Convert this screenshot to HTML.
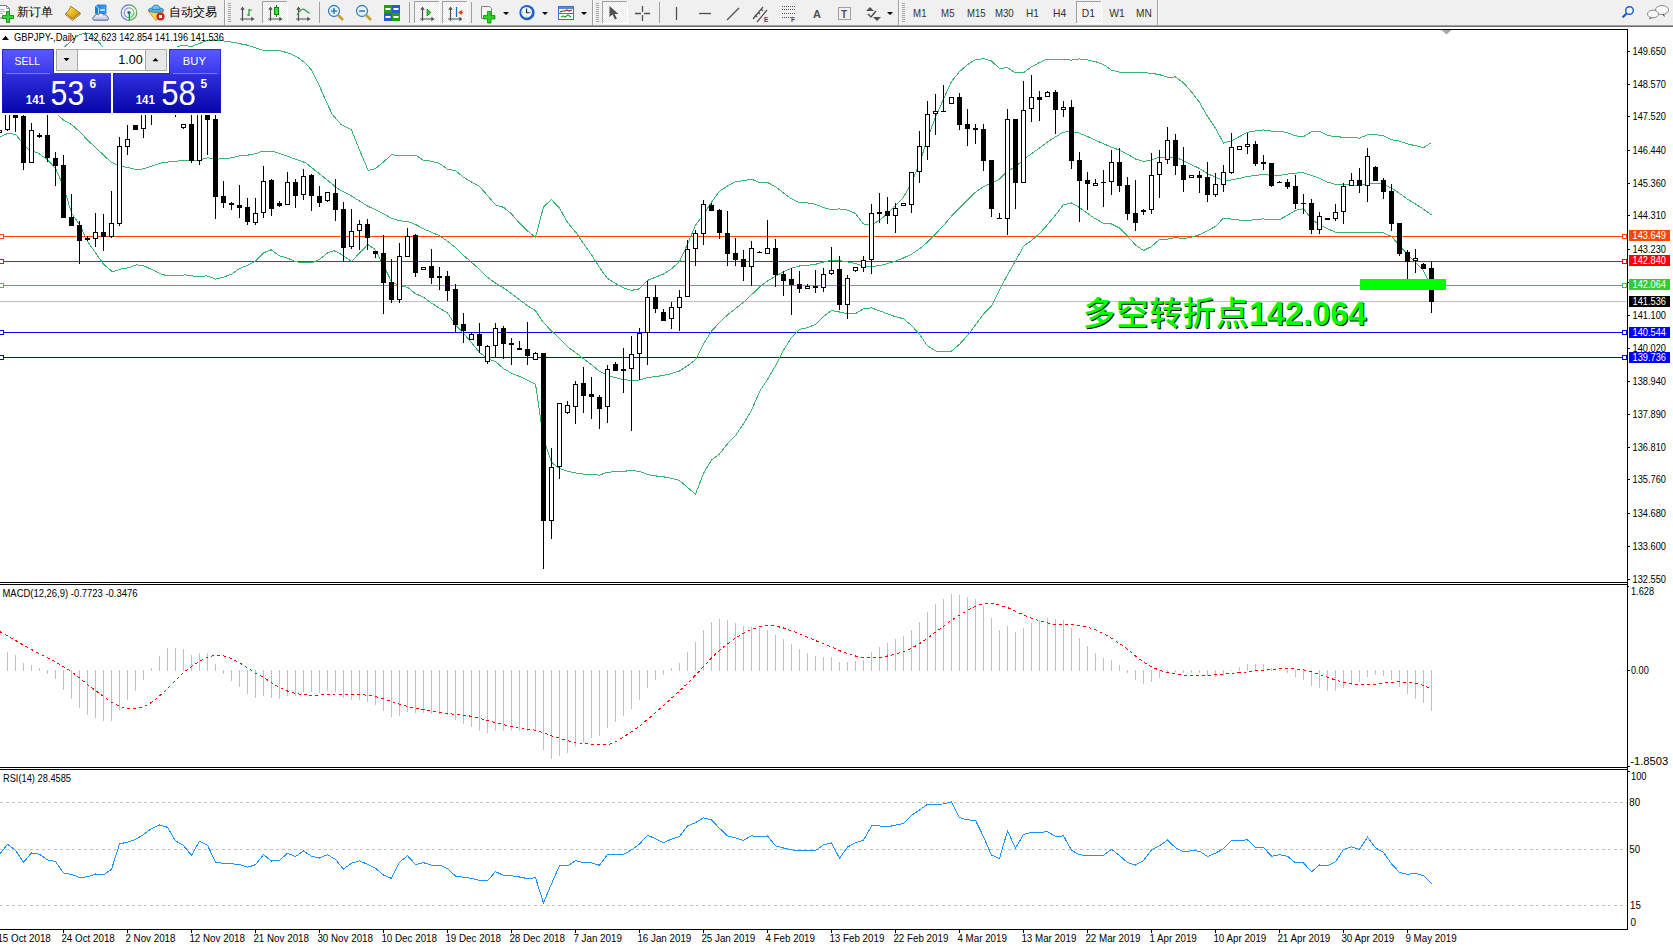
<!DOCTYPE html>
<html><head><meta charset="utf-8"><title>GBPJPY Daily</title>
<style>html,body{margin:0;padding:0;background:#fff;overflow:hidden;width:1673px;height:948px}svg{display:block}text{font-family:"Liberation Sans", Arial, sans-serif}</style>
</head><body>
<svg width="1673" height="948" viewBox="0 0 1673 948">
<defs><pattern id="chk" x="0" y="0" width="2" height="2" patternUnits="userSpaceOnUse"><rect width="2" height="2" fill="#fcfcfc"/><rect width="1" height="1" fill="#ececec"/><rect x="1" y="1" width="1" height="1" fill="#ececec"/></pattern></defs>
<rect x="0" y="0" width="1673" height="25" fill="#f0f0f0"/>
<g shape-rendering="crispEdges"><rect x="0" y="25" width="1673" height="1" fill="#a0a0a0"/><rect x="0" y="26" width="1673" height="1" fill="#6e6e6e"/><rect x="0" y="27" width="1673" height="2" fill="#fff"/></g>
<g shape-rendering="crispEdges">
<rect x="224" y="0" width="1" height="25" fill="#a0a0a0"/><rect x="225" y="0" width="1" height="25" fill="#fff"/>
<rect x="228" y="3" width="3" height="1" fill="#a8a8a8"/>
<rect x="228" y="5" width="3" height="1" fill="#a8a8a8"/>
<rect x="228" y="7" width="3" height="1" fill="#a8a8a8"/>
<rect x="228" y="9" width="3" height="1" fill="#a8a8a8"/>
<rect x="228" y="11" width="3" height="1" fill="#a8a8a8"/>
<rect x="228" y="13" width="3" height="1" fill="#a8a8a8"/>
<rect x="228" y="15" width="3" height="1" fill="#a8a8a8"/>
<rect x="228" y="17" width="3" height="1" fill="#a8a8a8"/>
<rect x="228" y="19" width="3" height="1" fill="#a8a8a8"/>
<rect x="228" y="21" width="3" height="1" fill="#a8a8a8"/>
<rect x="592" y="0" width="1" height="25" fill="#a0a0a0"/><rect x="593" y="0" width="1" height="25" fill="#fff"/>
<rect x="596" y="3" width="3" height="1" fill="#a8a8a8"/>
<rect x="596" y="5" width="3" height="1" fill="#a8a8a8"/>
<rect x="596" y="7" width="3" height="1" fill="#a8a8a8"/>
<rect x="596" y="9" width="3" height="1" fill="#a8a8a8"/>
<rect x="596" y="11" width="3" height="1" fill="#a8a8a8"/>
<rect x="596" y="13" width="3" height="1" fill="#a8a8a8"/>
<rect x="596" y="15" width="3" height="1" fill="#a8a8a8"/>
<rect x="596" y="17" width="3" height="1" fill="#a8a8a8"/>
<rect x="596" y="19" width="3" height="1" fill="#a8a8a8"/>
<rect x="596" y="21" width="3" height="1" fill="#a8a8a8"/>
<rect x="898" y="0" width="1" height="25" fill="#a0a0a0"/><rect x="899" y="0" width="1" height="25" fill="#fff"/>
<rect x="902" y="3" width="3" height="1" fill="#a8a8a8"/>
<rect x="902" y="5" width="3" height="1" fill="#a8a8a8"/>
<rect x="902" y="7" width="3" height="1" fill="#a8a8a8"/>
<rect x="902" y="9" width="3" height="1" fill="#a8a8a8"/>
<rect x="902" y="11" width="3" height="1" fill="#a8a8a8"/>
<rect x="902" y="13" width="3" height="1" fill="#a8a8a8"/>
<rect x="902" y="15" width="3" height="1" fill="#a8a8a8"/>
<rect x="902" y="17" width="3" height="1" fill="#a8a8a8"/>
<rect x="902" y="19" width="3" height="1" fill="#a8a8a8"/>
<rect x="902" y="21" width="3" height="1" fill="#a8a8a8"/>
<rect x="1157" y="0" width="1" height="25" fill="#a0a0a0"/><rect x="1158" y="0" width="1" height="25" fill="#fff"/>
<rect x="319" y="2" width="1" height="21" fill="#a0a0a0"/>
<rect x="409" y="2" width="1" height="21" fill="#a0a0a0"/>
<rect x="471" y="2" width="1" height="21" fill="#a0a0a0"/>
<rect x="659" y="2" width="1" height="21" fill="#a0a0a0"/>
<rect x="262" y="1" width="25" height="23" fill="url(#chk)"/>
<rect x="262" y="1" width="25" height="1" fill="#a0a0a0"/><rect x="262" y="1" width="1" height="22" fill="#a0a0a0"/>
<rect x="287" y="1" width="1" height="23" fill="#fff"/><rect x="262" y="23" width="26" height="1" fill="#fff"/>
<rect x="414" y="1" width="25" height="23" fill="url(#chk)"/>
<rect x="414" y="1" width="25" height="1" fill="#a0a0a0"/><rect x="414" y="1" width="1" height="22" fill="#a0a0a0"/>
<rect x="439" y="1" width="1" height="23" fill="#fff"/><rect x="414" y="23" width="26" height="1" fill="#fff"/>
<rect x="442" y="1" width="25" height="23" fill="url(#chk)"/>
<rect x="442" y="1" width="25" height="1" fill="#a0a0a0"/><rect x="442" y="1" width="1" height="22" fill="#a0a0a0"/>
<rect x="467" y="1" width="1" height="23" fill="#fff"/><rect x="442" y="23" width="26" height="1" fill="#fff"/>
<rect x="602" y="1" width="25" height="23" fill="url(#chk)"/>
<rect x="602" y="1" width="25" height="1" fill="#a0a0a0"/><rect x="602" y="1" width="1" height="22" fill="#a0a0a0"/>
<rect x="627" y="1" width="1" height="23" fill="#fff"/><rect x="602" y="23" width="26" height="1" fill="#fff"/>
<rect x="1076" y="1" width="25" height="23" fill="url(#chk)"/>
<rect x="1076" y="1" width="25" height="1" fill="#a0a0a0"/><rect x="1076" y="1" width="1" height="22" fill="#a0a0a0"/>
<rect x="1101" y="1" width="1" height="23" fill="#fff"/><rect x="1076" y="23" width="26" height="1" fill="#fff"/>
</g>
<path d="M-1.5 5.5h8l3 3v9.5h-11z" fill="#fdfdfd" stroke="#7a7a7a"/><path d="M6.5 5.5v3h3" fill="none" stroke="#9a9a9a"/><path d="M0 9.5h4M0 11.5h5M0 13.5h3" stroke="#b4b4b4"/><path d="M6.5 11.5h3v4h4v3h-4v4h-3v-4h-4v-3h4z" fill="#36d436" stroke="#128a12" stroke-width="0.9"/><defs><linearGradient id="gold" x1="0" y1="0" x2="1" y2="1"><stop offset="0" stop-color="#fff2a0"/><stop offset="0.5" stop-color="#e8b818"/><stop offset="1" stop-color="#c88a10"/></linearGradient><linearGradient id="cl" x1="0" y1="0" x2="0" y2="1"><stop offset="0" stop-color="#ffffff"/><stop offset="1" stop-color="#b8c4dc"/></linearGradient><linearGradient id="bx" x1="0" y1="0" x2="1" y2="0"><stop offset="0" stop-color="#0a7ae8"/><stop offset="1" stop-color="#3aa8ff"/></linearGradient></defs><path d="M65.5 14.5L72.5 20.5L80.5 14L80 12.8L72.5 18.6L66 13.2Z" fill="#f4e8c0" stroke="#9a6010" stroke-width="0.9"/><path d="M70.8 6.3L79.8 12.8L72.5 18.8L65.8 13.2L68.5 11Z" fill="url(#gold)" stroke="#a06a10" stroke-width="0.9"/><path d="M95.5 6.5l2-1.5h8.5v8.5h-10.5z" fill="url(#bx)" stroke="#1a70d0" stroke-width="0.8"/><path d="M96 6l2.5 2v6" stroke="#bfe4ff" fill="none" stroke-width="0.9"/><path d="M100 10h5" stroke="#e8f6ff" stroke-width="1.4"/><path d="M94 20.2c-1.6 0-1.8-3.6 0.6-3.9c0.3-2 2.6-2.6 3.8-1.4c1-2.2 4.4-2.2 5.2 0.2c1.2-0.9 3.6-0.2 3.6 1.6c1.8 0.4 1.6 3.5-0.2 3.5z" fill="url(#cl)" stroke="#3c5a96" stroke-width="0.9"/><path d="M129 20.5A7.8 7.8 0 0 0 136.8 12.7L129 12.7Z" fill="#cfe8cf"/><g fill="none" stroke-width="1.1"><path d="M129 4.9A7.8 7.8 0 0 0 129 20.5" stroke="#4a78d8"/><path d="M129 4.9A7.8 7.8 0 0 1 129 20.5" stroke="#5aa05a"/><path d="M129 7.9A4.8 4.8 0 0 0 129 17.5" stroke="#7a98e0"/><path d="M129 7.9A4.8 4.8 0 0 1 129 17.5" stroke="#80b880"/></g><circle cx="129" cy="12.6" r="1.6" fill="#2050c8"/><path d="M129.3 12.6v8" stroke="#18a018" stroke-width="1.3"/><path d="M148.5 11.5h15l-7.5 9z" fill="#f6dc48" stroke="#c89a18" stroke-width="0.9"/><ellipse cx="156" cy="10" rx="7.6" ry="2.4" fill="#58b0e8" stroke="#2a80b0" stroke-width="0.9"/><path d="M152 9.5c0-3 1.5-4.5 4-4.5s4 1.5 4 4.5z" fill="#70c0f0" stroke="#2a80b0" stroke-width="0.9"/><circle cx="160.5" cy="16.5" r="4.1" fill="#d42a10"/><rect x="159" y="15" width="3" height="3" fill="#fff"/><g stroke="#505050" stroke-width="1.2" fill="none"><path d="M242.5 9V21M240 19H252"/></g><path d="M242.5 6.5l-2.2 3.2h4.4z M254.5 19l-3.2 -2.2v4.4z" fill="#505050"/><path d="M249 9v7M249 10h3M247 15h2" stroke="#1a9a1a" stroke-width="1.2" fill="none"/><g stroke="#505050" stroke-width="1.2" fill="none"><path d="M270.5 9V21M268 19H280"/></g><path d="M270.5 6.5l-2.2 3.2h4.4z M282.5 19l-3.2 -2.2v4.4z" fill="#505050"/><path d="M276.5 5v12" stroke="#0a8a0a"/><rect x="274.5" y="7.5" width="4" height="7" fill="#3ae03a" stroke="#0a8a0a"/><g stroke="#505050" stroke-width="1.2" fill="none"><path d="M298.5 9V21M296 19H308"/></g><path d="M298.5 6.5l-2.2 3.2h4.4z M310.5 19l-3.2 -2.2v4.4z" fill="#505050"/><path d="M297 15q5 -8 8 -5t5 3" fill="none" stroke="#3a9a3a" stroke-width="1.2"/><circle cx="334" cy="11" r="5.5" fill="#e6f4fc" stroke="#3a80c8" stroke-width="1.3"/><path d="M331 11h6M334 8v6" stroke="#3a80b0" stroke-width="1.6"/><path d="M338 15l5 5" stroke="#c8a020" stroke-width="2.6"/><circle cx="362" cy="11" r="5.5" fill="#e6f4fc" stroke="#3a80c8" stroke-width="1.3"/><path d="M359 11h6" stroke="#3a80b0" stroke-width="1.6"/><path d="M366 15l5 5" stroke="#c8a020" stroke-width="2.6"/><rect x="384" y="5" width="8" height="8" fill="#2a9a1a"/><rect x="392" y="5" width="8" height="8" fill="#2a5ad8"/><rect x="384" y="13" width="8" height="8" fill="#2a5ad8"/><rect x="392" y="13" width="8" height="8" fill="#2a9a1a"/><path d="M385.5 9h5M393.5 9h5M385.5 17h5M393.5 17h5" stroke="#fff" stroke-width="2"/><g stroke="#505050" stroke-width="1.2" fill="none"><path d="M422.5 9V21M420 19H432"/></g><path d="M422.5 6.5l-2.2 3.2h4.4z M434.5 19l-3.2 -2.2v4.4z" fill="#505050"/><path d="M427 9v7l4-3.5z" fill="#3ac03a" stroke="#1a8a1a" stroke-width="0.8"/><g stroke="#505050" stroke-width="1.2" fill="none"><path d="M450.5 9V21M448 19H460"/></g><path d="M450.5 6.5l-2.2 3.2h4.4z M462.5 19l-3.2 -2.2v4.4z" fill="#505050"/><path d="M456.5 7v10" stroke="#1a6aa8" stroke-width="1.2"/><path d="M458 12.5l4-2.5v5z" fill="#e04a10"/><path d="M460 12.5h3" stroke="#e04a10" stroke-width="1.5"/><path d="M481.5 6.5h8l2 2v10h-10z" fill="#fafafa" stroke="#808080"/><path d="M487.5 11.5h3.5v4h4v3.5h-4v4h-3.5v-4h-4v-3.5h4z" fill="#2ad02a" stroke="#0a8a0a" stroke-width="0.8"/><path d="M503 12h6l-3 3z" fill="#000"/><circle cx="527" cy="12.7" r="7.6" fill="#1a62cc"/><circle cx="526.6" cy="12.3" r="5.4" fill="#f4f8ff"/><path d="M526.6 8.5v4.2h3" stroke="#222" stroke-width="1.1" fill="none"/><path d="M522 12.3h1M531 12.3h-1M526.6 16.7v-1" stroke="#8aa0c0"/><path d="M542 12h6l-3 3z" fill="#000"/><rect x="558.5" y="6.5" width="15" height="13" fill="#fff" stroke="#3a70c0"/><rect x="559" y="7" width="14" height="2" fill="#5a8ad8"/><path d="M559 13.5h14" stroke="#3a70c0"/><path d="M560 12l3-1 2 0 2-1 2 1 3-1" stroke="#a02010" fill="none" stroke-width="1.2"/><path d="M561 17l2-1 2 1 3-2 3 2" stroke="#20a020" fill="none" stroke-width="1.2"/><path d="M581 12h6l-3 3z" fill="#000"/><path d="M609.5 6v11l3-2.5 2.5 5 2-1-2.5-4.5h4z" fill="#505050"/><path d="M642.5 6v6M642.5 15v6M635 13.5h6M644 13.5h6" stroke="#505050" stroke-width="1.3"/><path d="M676.5 7v13" stroke="#505050" stroke-width="1.3"/><path d="M699 13.5h12" stroke="#505050" stroke-width="1.3"/><path d="M727 20l12-12" stroke="#505050" stroke-width="1.3"/><path d="M753 19l10-12M757 22l10-12" stroke="#505050" stroke-width="1.2"/><path d="M755 15l2 2M758 12l2 2M761 9l2 2" stroke="#505050" stroke-width="1.2"/><text x="764" y="22" font-size="6.5" font-weight="bold" fill="#404040" font-family="Liberation Sans">E</text><path d="M782 6.5h13M782 9.5h13M782 13.5h13M782 17.5h9" stroke="#505050" stroke-dasharray="1,1"/><text x="791" y="22" font-size="6.5" font-weight="bold" fill="#404040" font-family="Liberation Sans">F</text><text x="813" y="18" font-size="11" font-weight="bold" fill="#505050" font-family="Liberation Sans">A</text><rect x="838.5" y="7.5" width="12" height="12" fill="none" stroke="#505050" stroke-dasharray="1,1"/><text x="841" y="17.5" font-size="10" font-weight="bold" fill="#505050" font-family="Liberation Sans">T</text><path d="M866 11l4-4 4 4z" fill="#505050"/><path d="M868 14l3 3 5-6" stroke="#505050" stroke-width="1.5" fill="none"/><path d="M873 17h8l-4 4z" fill="#505050"/><path d="M887 12h6l-3 3z" fill="#000"/><circle cx="1629.5" cy="10.5" r="3.8" fill="#f4f8ff" stroke="#1a5ad0" stroke-width="1.4"/><path d="M1626.5 13.5l-4 4" stroke="#1a5ad0" stroke-width="2.2"/><ellipse cx="1662" cy="10" rx="6.5" ry="4.5" fill="#f8f8f8" stroke="#8a8a8a"/><path d="M1664 14l1 3-3-2.5z" fill="#555"/><ellipse cx="1653" cy="14" rx="5.5" ry="3.8" fill="#f8f8f8" stroke="#8a8a8a"/><path d="M1650 17.5l-1 2 3-1.5z" fill="#555"/>
<text x="16.5" y="15.8" font-size="12.4" fill="#000" font-family='"Liberation Sans", "Noto Sans CJK SC", sans-serif' font-weight="500">新订单</text>
<text x="168.5" y="15.8" font-size="12.2" fill="#000" font-family='"Liberation Sans", "Noto Sans CJK SC", sans-serif' font-weight="500">自动交易</text>
<text x="913.0999999999999" y="17.2" font-size="10.6" fill="#333" font-family='"Liberation Sans", Arial, sans-serif' textLength="13.399999999999999" lengthAdjust="spacingAndGlyphs">M1</text>
<text x="941.0999999999999" y="17.2" font-size="10.6" fill="#333" font-family='"Liberation Sans", Arial, sans-serif' textLength="13.399999999999999" lengthAdjust="spacingAndGlyphs">M5</text>
<text x="967.0999999999999" y="17.2" font-size="10.6" fill="#333" font-family='"Liberation Sans", Arial, sans-serif' textLength="18.5" lengthAdjust="spacingAndGlyphs">M15</text>
<text x="994.9" y="17.2" font-size="10.6" fill="#333" font-family='"Liberation Sans", Arial, sans-serif' textLength="18.8" lengthAdjust="spacingAndGlyphs">M30</text>
<text x="1026.0" y="17.2" font-size="10.6" fill="#333" font-family='"Liberation Sans", Arial, sans-serif' textLength="12.799999999999999" lengthAdjust="spacingAndGlyphs">H1</text>
<text x="1053.1" y="17.2" font-size="10.6" fill="#333" font-family='"Liberation Sans", Arial, sans-serif' textLength="13.2" lengthAdjust="spacingAndGlyphs">H4</text>
<text x="1081.8" y="17.2" font-size="10.6" fill="#333" font-family='"Liberation Sans", Arial, sans-serif' textLength="13.2" lengthAdjust="spacingAndGlyphs">D1</text>
<text x="1109.3" y="17.2" font-size="10.6" fill="#333" font-family='"Liberation Sans", Arial, sans-serif' textLength="15.6" lengthAdjust="spacingAndGlyphs">W1</text>
<text x="1136.0" y="17.2" font-size="10.6" fill="#333" font-family='"Liberation Sans", Arial, sans-serif' textLength="15.799999999999999" lengthAdjust="spacingAndGlyphs">MN</text>
<g shape-rendering="crispEdges">
<rect x="0" y="301" width="1627" height="1" fill="#c0c0c0"/>
<rect x="4" y="236" width="1618" height="1" fill="#ff4500"/>
<rect x="-0.5" y="234.5" width="4" height="4" fill="#fff" stroke="#ff4500" stroke-width="1"/>
<rect x="1622.5" y="234.5" width="4" height="4" fill="#fff" stroke="#ff4500" stroke-width="1"/>
<rect x="4" y="261" width="1618" height="1" fill="#ff0000"/>
<rect x="-0.5" y="259.5" width="4" height="4" fill="#fff" stroke="#ff0000" stroke-width="1"/>
<rect x="1622.5" y="259.5" width="4" height="4" fill="#fff" stroke="#ff0000" stroke-width="1"/>
<rect x="4" y="285" width="1618" height="1" fill="#32cd32"/>
<rect x="-0.5" y="283.5" width="4" height="4" fill="#fff" stroke="#32cd32" stroke-width="1"/>
<rect x="1622.5" y="283.5" width="4" height="4" fill="#fff" stroke="#32cd32" stroke-width="1"/>
<rect x="4" y="332" width="1618" height="1" fill="#0000ff"/>
<rect x="-0.5" y="330.5" width="4" height="4" fill="#fff" stroke="#0000ff" stroke-width="1"/>
<rect x="1622.5" y="330.5" width="4" height="4" fill="#fff" stroke="#0000ff" stroke-width="1"/>
<rect x="4" y="357" width="1618" height="1" fill="#0000ff"/>
<rect x="-0.5" y="355.5" width="4" height="4" fill="#fff" stroke="#0000ff" stroke-width="1"/>
<rect x="1622.5" y="355.5" width="4" height="4" fill="#fff" stroke="#0000ff" stroke-width="1"/>
</g>
<g fill="none" stroke="#3cb371" stroke-width="1" shape-rendering="crispEdges">
<polyline points="62.5,49.0 64.5,47.1 72.5,39.5 79.5,34.7 85.5,32.8 91.5,34.5 97.5,40.5 102.9,47.1 110.5,52.5 170.5,52.5 177.4,46.8 182.8,45.2 191.4,46.6 198.9,43.6 206.5,40.9 215.1,40.3 225.9,41.2 236.6,43.0 247.4,45.2 263.0,50.2 280.9,50.9 290.4,53.8 296.5,56.5 305.5,63.2 312.2,71.0 318.9,84.5 325.5,100.1 332.4,114.6 341.3,124.7 351.4,129.6 359.2,149.3 368.2,170.5 375.5,168.6 383.5,161.9 391.5,154.8 399.5,155.4 407.5,155.8 415.5,155.2 423.5,160.2 431.5,161.2 439.5,163.4 447.5,169.3 455.5,170.5 463.5,177.3 471.5,182.0 479.5,186.4 487.5,195.5 495.5,204.8 503.5,207.3 511.5,213.8 519.5,223.2 527.5,231.0 535.5,237.4 543.5,206.8 551.5,199.7 559.5,208.1 567.5,222.4 575.5,231.9 583.5,243.6 591.5,254.8 599.5,267.6 607.5,278.4 615.5,283.5 623.5,287.9 631.5,290.4 639.5,288.8 647.5,280.4 655.5,277.2 663.5,274.1 671.5,268.8 679.5,261.6 687.5,244.3 695.5,225.2 703.5,214.4 711.5,202.1 719.5,191.2 727.5,186.0 735.5,181.8 743.5,180.6 751.5,179.2 759.5,182.5 767.5,182.5 775.5,186.6 783.5,193.0 791.5,198.9 799.5,202.7 807.5,203.0 815.5,204.3 823.5,207.5 831.5,209.7 839.5,208.9 847.5,210.1 855.5,213.4 863.5,224.0 871.5,225.1 879.5,220.3 887.5,213.5 895.5,205.6 903.5,197.2 911.5,182.8 919.5,163.5 927.5,138.5 935.5,117.1 943.5,99.2 951.5,81.4 959.5,71.7 967.5,64.6 975.5,59.6 983.5,58.7 991.5,61.0 999.5,68.5 1007.5,67.6 1015.5,72.9 1023.5,72.8 1031.5,66.8 1039.5,62.5 1047.5,59.0 1055.5,59.0 1063.5,59.5 1071.5,60.1 1079.5,58.9 1087.5,59.9 1095.5,61.7 1103.5,64.4 1111.5,70.2 1119.5,72.2 1127.5,72.6 1135.5,72.9 1143.5,72.6 1151.5,73.3 1159.5,74.7 1167.5,77.1 1175.5,77.0 1183.5,82.8 1191.5,92.0 1199.5,102.3 1207.5,116.4 1215.5,128.1 1223.5,143.1 1231.5,140.8 1239.5,136.5 1247.5,132.2 1255.5,131.0 1263.5,129.9 1271.5,131.1 1279.5,131.1 1287.5,132.8 1295.5,135.8 1303.5,136.7 1311.5,131.7 1319.5,131.4 1327.5,135.4 1335.5,136.7 1343.5,137.2 1351.5,137.5 1359.5,138.1 1367.5,134.9 1375.5,134.6 1383.5,135.7 1391.5,139.7 1399.5,141.1 1407.5,144.0 1415.5,145.6 1423.5,147.6 1431.5,142.6"/>
<polyline points="0.5,100.5 40.5,105.5 55.5,113.0 58.7,115.8 63.5,120.0 71.5,124.5 79.5,131.5 87.5,140.0 95.5,147.5 103.5,155.0 111.5,162.5 119.5,165.8 127.5,167.5 136.3,169.6 143.7,168.8 152.5,165.9 161.4,162.9 168.8,161.9 176.2,161.5 182.1,160.0 190.9,160.7 200.8,159.5 207.5,157.8 212.9,158.7 217.0,159.1 226.5,158.7 233.2,157.4 239.9,155.7 248.0,155.1 256.1,153.7 262.9,151.0 271.0,151.0 276.4,152.4 284.5,155.1 295.3,159.1 305.5,162.7 316.7,171.7 327.9,180.6 339.1,189.6 350.3,195.2 359.2,200.8 368.2,206.4 375.5,209.6 383.5,213.6 391.5,218.3 399.5,220.8 407.5,221.5 415.5,224.4 423.5,228.8 431.5,232.2 439.5,235.8 447.5,241.2 455.5,247.6 463.5,255.3 471.5,262.3 479.5,269.5 487.5,277.2 495.5,283.1 503.5,287.9 511.5,293.6 519.5,299.8 527.5,305.7 535.5,310.7 543.5,322.6 551.5,331.0 559.5,338.3 567.5,346.8 575.5,352.4 583.5,358.8 591.5,364.8 599.5,371.3 607.5,375.3 615.5,377.6 623.5,379.6 631.5,380.6 639.5,380.0 647.5,377.5 655.5,376.6 663.5,375.4 671.5,373.6 679.5,371.0 687.5,365.8 695.5,359.7 703.5,344.0 711.5,331.1 719.5,322.5 727.5,314.9 735.5,308.6 743.5,302.2 751.5,294.8 759.5,287.1 767.5,281.0 775.5,276.2 783.5,271.7 791.5,268.2 799.5,266.0 807.5,265.4 815.5,264.3 823.5,262.0 831.5,260.1 839.5,260.5 847.5,261.9 855.5,263.6 863.5,266.3 871.5,266.5 879.5,265.6 887.5,263.6 895.5,261.1 903.5,258.0 911.5,254.2 919.5,248.9 927.5,242.1 935.5,234.0 943.5,225.6 951.5,216.2 959.5,208.0 967.5,200.1 975.5,192.2 983.5,186.5 991.5,183.4 999.5,179.1 1007.5,171.2 1015.5,166.9 1023.5,159.5 1031.5,153.7 1039.5,148.0 1047.5,141.9 1055.5,136.9 1063.5,132.1 1071.5,131.5 1079.5,133.2 1087.5,136.6 1095.5,140.2 1103.5,143.8 1111.5,147.1 1119.5,150.1 1127.5,154.3 1135.5,159.0 1143.5,161.6 1151.5,159.9 1159.5,157.1 1167.5,158.1 1175.5,157.3 1183.5,160.7 1191.5,164.6 1199.5,168.5 1207.5,173.6 1215.5,177.3 1223.5,180.6 1231.5,180.0 1239.5,178.3 1247.5,176.4 1255.5,175.4 1263.5,174.4 1271.5,175.5 1279.5,175.4 1287.5,174.1 1295.5,173.1 1303.5,172.7 1311.5,175.4 1319.5,178.1 1327.5,182.1 1335.5,184.4 1343.5,184.8 1351.5,185.0 1359.5,185.5 1367.5,183.6 1375.5,183.4 1383.5,184.3 1391.5,188.1 1399.5,193.4 1407.5,199.2 1415.5,204.0 1423.5,209.2 1431.5,215.0"/>
<polyline points="0.5,136.7 7.5,133.6 15.5,134.2 21.5,141.8 28.5,149.4 38.5,153.2 47.5,159.8 55.5,168.4 63.5,186.4 71.5,213.0 80.5,226.2 87.5,241.4 95.5,252.8 103.5,264.2 112.5,271.8 120.5,269.1 128.6,267.8 136.6,264.8 144.7,266.2 152.8,270.0 160.8,274.0 167.8,275.9 178.6,275.9 185.1,274.8 195.8,276.5 206.6,275.9 215.7,279.1 223.8,277.0 231.3,274.3 238.9,268.9 246.4,265.7 255.0,261.4 263.6,252.8 271.1,249.8 279.7,256.0 286.2,257.6 295.3,261.5 302.0,262.6 312.1,262.6 319.7,259.2 328.2,252.5 334.1,250.8 339.1,253.0 345.9,257.5 351.8,261.5 359.4,253.0 367.8,244.5 374.6,249.1 375.5,250.5 383.5,265.2 391.5,281.7 399.5,286.1 407.5,287.2 415.5,293.7 423.5,297.3 431.5,303.2 439.5,308.2 447.5,313.0 455.5,324.8 463.5,333.4 471.5,342.6 479.5,352.5 487.5,358.8 495.5,361.4 503.5,368.5 511.5,373.3 519.5,376.4 527.5,380.3 535.5,384.1 543.5,438.4 551.5,462.3 559.5,468.6 567.5,471.2 575.5,473.0 583.5,474.1 591.5,474.7 599.5,475.1 607.5,472.2 615.5,471.7 623.5,471.2 631.5,470.7 639.5,471.2 647.5,474.6 655.5,475.9 663.5,476.8 671.5,478.4 679.5,480.5 687.5,487.3 695.5,494.3 703.5,473.5 711.5,460.1 719.5,453.9 727.5,443.8 735.5,435.5 743.5,423.8 751.5,410.5 759.5,391.6 767.5,379.5 775.5,365.8 783.5,350.4 791.5,337.5 799.5,329.2 807.5,327.8 815.5,324.3 823.5,316.5 831.5,310.6 839.5,312.0 847.5,313.7 855.5,313.7 863.5,308.7 871.5,307.9 879.5,310.8 887.5,313.8 895.5,316.7 903.5,318.8 911.5,325.5 919.5,334.3 927.5,345.8 935.5,350.9 943.5,351.9 951.5,351.1 959.5,344.3 967.5,335.5 975.5,324.8 983.5,314.2 991.5,305.8 999.5,289.7 1007.5,274.8 1015.5,261.0 1023.5,246.2 1031.5,240.6 1039.5,233.5 1047.5,224.7 1055.5,214.9 1063.5,204.7 1071.5,203.0 1079.5,207.5 1087.5,213.4 1095.5,218.8 1103.5,223.2 1111.5,224.0 1119.5,228.0 1127.5,236.1 1135.5,245.1 1143.5,250.5 1151.5,246.6 1159.5,239.5 1167.5,239.1 1175.5,237.6 1183.5,238.6 1191.5,237.2 1199.5,234.7 1207.5,230.7 1215.5,226.5 1223.5,218.1 1231.5,219.1 1239.5,220.1 1247.5,220.5 1255.5,219.7 1263.5,218.9 1271.5,220.0 1279.5,219.7 1287.5,215.3 1295.5,210.4 1303.5,208.7 1311.5,219.1 1319.5,224.9 1327.5,228.7 1335.5,232.1 1343.5,232.4 1351.5,232.5 1359.5,232.8 1367.5,232.4 1375.5,232.2 1383.5,232.9 1391.5,236.4 1399.5,245.7 1407.5,254.4 1415.5,262.3 1423.5,270.8 1431.5,287.4"/>
</g>
<g shape-rendering="crispEdges">
<rect x="-2.5" y="130.5" width="4" height="2" fill="#fff" stroke="#000" stroke-width="1"/>
<rect x="7" y="95" width="1" height="5" fill="#000"/>
<rect x="7" y="130" width="1" height="1" fill="#000"/>
<rect x="5.5" y="100.5" width="4" height="29" fill="#fff" stroke="#000" stroke-width="1"/>
<rect x="15" y="98" width="1" height="34" fill="#000"/>
<rect x="13" y="100" width="5" height="18" fill="#000"/>
<rect x="23" y="115" width="1" height="55" fill="#000"/>
<rect x="21" y="116" width="5" height="47" fill="#000"/>
<rect x="31" y="123" width="1" height="7" fill="#000"/>
<rect x="29.5" y="130.5" width="4" height="32" fill="#fff" stroke="#000" stroke-width="1"/>
<rect x="39" y="133" width="1" height="5" fill="#000"/>
<rect x="37" y="135" width="5" height="2" fill="#000"/>
<rect x="47" y="115" width="1" height="47" fill="#000"/>
<rect x="45" y="135" width="5" height="23" fill="#000"/>
<rect x="55" y="152" width="1" height="34" fill="#000"/>
<rect x="53" y="158" width="5" height="8" fill="#000"/>
<rect x="63" y="155" width="1" height="63" fill="#000"/>
<rect x="61" y="165" width="5" height="53" fill="#000"/>
<rect x="71" y="194" width="1" height="32" fill="#000"/>
<rect x="69" y="217" width="5" height="9" fill="#000"/>
<rect x="79" y="221" width="1" height="43" fill="#000"/>
<rect x="77" y="225" width="5" height="16" fill="#000"/>
<rect x="87" y="236" width="1" height="5" fill="#000"/>
<rect x="85" y="238" width="5" height="2" fill="#000"/>
<rect x="95" y="213" width="1" height="19" fill="#000"/>
<rect x="95" y="239" width="1" height="8" fill="#000"/>
<rect x="93.5" y="232.5" width="4" height="6" fill="#fff" stroke="#000" stroke-width="1"/>
<rect x="103" y="214" width="1" height="37" fill="#000"/>
<rect x="101" y="232" width="5" height="5" fill="#000"/>
<rect x="111" y="191" width="1" height="32" fill="#000"/>
<rect x="111" y="237" width="1" height="1" fill="#000"/>
<rect x="109.5" y="223.5" width="4" height="13" fill="#fff" stroke="#000" stroke-width="1"/>
<rect x="119" y="137" width="1" height="9" fill="#000"/>
<rect x="119" y="224" width="1" height="2" fill="#000"/>
<rect x="117.5" y="146.5" width="4" height="77" fill="#fff" stroke="#000" stroke-width="1"/>
<rect x="127" y="125" width="1" height="14" fill="#000"/>
<rect x="127" y="147" width="1" height="8" fill="#000"/>
<rect x="125.5" y="139.5" width="4" height="7" fill="#fff" stroke="#000" stroke-width="1"/>
<rect x="135" y="125" width="1" height="5" fill="#000"/>
<rect x="133" y="125" width="5" height="5" fill="#000"/>
<rect x="143" y="88" width="1" height="12" fill="#000"/>
<rect x="143" y="129" width="1" height="9" fill="#000"/>
<rect x="141.5" y="100.5" width="4" height="28" fill="#fff" stroke="#000" stroke-width="1"/>
<rect x="151" y="80" width="1" height="45" fill="#000"/>
<rect x="149" y="92" width="5" height="13" fill="#000"/>
<rect x="159" y="78" width="1" height="12" fill="#000"/>
<rect x="159" y="104" width="1" height="4" fill="#000"/>
<rect x="157.5" y="90.5" width="4" height="13" fill="#fff" stroke="#000" stroke-width="1"/>
<rect x="167" y="80" width="1" height="30" fill="#000"/>
<rect x="165" y="88" width="5" height="12" fill="#000"/>
<rect x="175" y="85" width="1" height="32" fill="#000"/>
<rect x="173" y="98" width="5" height="10" fill="#000"/>
<rect x="183" y="128" width="1" height="1" fill="#000"/>
<rect x="181.5" y="124.5" width="4" height="3" fill="#fff" stroke="#000" stroke-width="1"/>
<rect x="191" y="110" width="1" height="53" fill="#000"/>
<rect x="189" y="124" width="5" height="37" fill="#000"/>
<rect x="199" y="100" width="1" height="10" fill="#000"/>
<rect x="199" y="161" width="1" height="4" fill="#000"/>
<rect x="197.5" y="110.5" width="4" height="50" fill="#fff" stroke="#000" stroke-width="1"/>
<rect x="207" y="95" width="1" height="60" fill="#000"/>
<rect x="205" y="110" width="5" height="10" fill="#000"/>
<rect x="215" y="112" width="1" height="107" fill="#000"/>
<rect x="213" y="119" width="5" height="78" fill="#000"/>
<rect x="223" y="181" width="1" height="27" fill="#000"/>
<rect x="221" y="196" width="5" height="7" fill="#000"/>
<rect x="231" y="202" width="1" height="8" fill="#000"/>
<rect x="229" y="203" width="5" height="2" fill="#000"/>
<rect x="239" y="185" width="1" height="33" fill="#000"/>
<rect x="237" y="205" width="5" height="3" fill="#000"/>
<rect x="247" y="198" width="1" height="27" fill="#000"/>
<rect x="245" y="207" width="5" height="15" fill="#000"/>
<rect x="255" y="198" width="1" height="15" fill="#000"/>
<rect x="255" y="223" width="1" height="2" fill="#000"/>
<rect x="253.5" y="213.5" width="4" height="9" fill="#fff" stroke="#000" stroke-width="1"/>
<rect x="263" y="166" width="1" height="15" fill="#000"/>
<rect x="263" y="213" width="1" height="5" fill="#000"/>
<rect x="261.5" y="181.5" width="4" height="31" fill="#fff" stroke="#000" stroke-width="1"/>
<rect x="271" y="179" width="1" height="37" fill="#000"/>
<rect x="269" y="180" width="5" height="29" fill="#000"/>
<rect x="279" y="201" width="1" height="6" fill="#000"/>
<rect x="277" y="203" width="5" height="3" fill="#000"/>
<rect x="287" y="172" width="1" height="10" fill="#000"/>
<rect x="285.5" y="182.5" width="4" height="22" fill="#fff" stroke="#000" stroke-width="1"/>
<rect x="295" y="179" width="1" height="29" fill="#000"/>
<rect x="293" y="182" width="5" height="14" fill="#000"/>
<rect x="303" y="169" width="1" height="7" fill="#000"/>
<rect x="303" y="195" width="1" height="5" fill="#000"/>
<rect x="301.5" y="176.5" width="4" height="18" fill="#fff" stroke="#000" stroke-width="1"/>
<rect x="311" y="174" width="1" height="37" fill="#000"/>
<rect x="309" y="175" width="5" height="21" fill="#000"/>
<rect x="319" y="186" width="1" height="21" fill="#000"/>
<rect x="317" y="196" width="5" height="7" fill="#000"/>
<rect x="327" y="201" width="1" height="1" fill="#000"/>
<rect x="325.5" y="192.5" width="4" height="8" fill="#fff" stroke="#000" stroke-width="1"/>
<rect x="335" y="179" width="1" height="42" fill="#000"/>
<rect x="333" y="193" width="5" height="17" fill="#000"/>
<rect x="343" y="202" width="1" height="60" fill="#000"/>
<rect x="341" y="209" width="5" height="39" fill="#000"/>
<rect x="351" y="209" width="1" height="22" fill="#000"/>
<rect x="351" y="247" width="1" height="2" fill="#000"/>
<rect x="349.5" y="231.5" width="4" height="15" fill="#fff" stroke="#000" stroke-width="1"/>
<rect x="359" y="220" width="1" height="4" fill="#000"/>
<rect x="359" y="231" width="1" height="19" fill="#000"/>
<rect x="357.5" y="224.5" width="4" height="6" fill="#fff" stroke="#000" stroke-width="1"/>
<rect x="367" y="219" width="1" height="31" fill="#000"/>
<rect x="365" y="224" width="5" height="14" fill="#000"/>
<rect x="375" y="251" width="1" height="7" fill="#000"/>
<rect x="373" y="251" width="5" height="3" fill="#000"/>
<rect x="383" y="235" width="1" height="79" fill="#000"/>
<rect x="381" y="253" width="5" height="30" fill="#000"/>
<rect x="391" y="259" width="1" height="44" fill="#000"/>
<rect x="389" y="282" width="5" height="18" fill="#000"/>
<rect x="399" y="243" width="1" height="13" fill="#000"/>
<rect x="399" y="300" width="1" height="3" fill="#000"/>
<rect x="397.5" y="256.5" width="4" height="43" fill="#fff" stroke="#000" stroke-width="1"/>
<rect x="407" y="228" width="1" height="8" fill="#000"/>
<rect x="405.5" y="236.5" width="4" height="20" fill="#fff" stroke="#000" stroke-width="1"/>
<rect x="415" y="234" width="1" height="43" fill="#000"/>
<rect x="413" y="235" width="5" height="38" fill="#000"/>
<rect x="421.5" y="267.5" width="4" height="2" fill="#fff" stroke="#000" stroke-width="1"/>
<rect x="431" y="249" width="1" height="35" fill="#000"/>
<rect x="429" y="266" width="5" height="12" fill="#000"/>
<rect x="439" y="267" width="1" height="23" fill="#000"/>
<rect x="437" y="276" width="5" height="2" fill="#000"/>
<rect x="447" y="271" width="1" height="30" fill="#000"/>
<rect x="445" y="276" width="5" height="15" fill="#000"/>
<rect x="455" y="284" width="1" height="48" fill="#000"/>
<rect x="453" y="289" width="5" height="36" fill="#000"/>
<rect x="463" y="313" width="1" height="30" fill="#000"/>
<rect x="461" y="324" width="5" height="7" fill="#000"/>
<rect x="471" y="333" width="1" height="1" fill="#000"/>
<rect x="469.5" y="334.5" width="4" height="5" fill="#fff" stroke="#000" stroke-width="1"/>
<rect x="479" y="323" width="1" height="30" fill="#000"/>
<rect x="477" y="334" width="5" height="12" fill="#000"/>
<rect x="487" y="345" width="1" height="1" fill="#000"/>
<rect x="487" y="362" width="1" height="2" fill="#000"/>
<rect x="485.5" y="346.5" width="4" height="15" fill="#fff" stroke="#000" stroke-width="1"/>
<rect x="495" y="323" width="1" height="5" fill="#000"/>
<rect x="495" y="346" width="1" height="11" fill="#000"/>
<rect x="493.5" y="328.5" width="4" height="17" fill="#fff" stroke="#000" stroke-width="1"/>
<rect x="503" y="326" width="1" height="33" fill="#000"/>
<rect x="501" y="328" width="5" height="16" fill="#000"/>
<rect x="511" y="338" width="1" height="27" fill="#000"/>
<rect x="509" y="343" width="5" height="2" fill="#000"/>
<rect x="519" y="341" width="1" height="9" fill="#000"/>
<rect x="517" y="348" width="5" height="2" fill="#000"/>
<rect x="527" y="322" width="1" height="43" fill="#000"/>
<rect x="525" y="349" width="5" height="7" fill="#000"/>
<rect x="535" y="352" width="1" height="1" fill="#000"/>
<rect x="533.5" y="353.5" width="4" height="6" fill="#fff" stroke="#000" stroke-width="1"/>
<rect x="543" y="353" width="1" height="216" fill="#000"/>
<rect x="541" y="353" width="5" height="168" fill="#000"/>
<rect x="551" y="448" width="1" height="19" fill="#000"/>
<rect x="551" y="521" width="1" height="18" fill="#000"/>
<rect x="549.5" y="467.5" width="4" height="53" fill="#fff" stroke="#000" stroke-width="1"/>
<rect x="559" y="467" width="1" height="12" fill="#000"/>
<rect x="557.5" y="403.5" width="4" height="63" fill="#fff" stroke="#000" stroke-width="1"/>
<rect x="567" y="401" width="1" height="4" fill="#000"/>
<rect x="567" y="413" width="1" height="1" fill="#000"/>
<rect x="565.5" y="405.5" width="4" height="7" fill="#fff" stroke="#000" stroke-width="1"/>
<rect x="575" y="381" width="1" height="3" fill="#000"/>
<rect x="575" y="407" width="1" height="17" fill="#000"/>
<rect x="573.5" y="384.5" width="4" height="22" fill="#fff" stroke="#000" stroke-width="1"/>
<rect x="583" y="367" width="1" height="46" fill="#000"/>
<rect x="581" y="383" width="5" height="13" fill="#000"/>
<rect x="591" y="377" width="1" height="42" fill="#000"/>
<rect x="589" y="394" width="5" height="3" fill="#000"/>
<rect x="599" y="395" width="1" height="34" fill="#000"/>
<rect x="597" y="397" width="5" height="12" fill="#000"/>
<rect x="607" y="365" width="1" height="4" fill="#000"/>
<rect x="607" y="407" width="1" height="16" fill="#000"/>
<rect x="605.5" y="369.5" width="4" height="37" fill="#fff" stroke="#000" stroke-width="1"/>
<rect x="615" y="362" width="1" height="9" fill="#000"/>
<rect x="613" y="364" width="5" height="7" fill="#000"/>
<rect x="623" y="348" width="1" height="45" fill="#000"/>
<rect x="621" y="369" width="5" height="2" fill="#000"/>
<rect x="631" y="336" width="1" height="18" fill="#000"/>
<rect x="631" y="369" width="1" height="62" fill="#000"/>
<rect x="629.5" y="354.5" width="4" height="14" fill="#fff" stroke="#000" stroke-width="1"/>
<rect x="639" y="328" width="1" height="5" fill="#000"/>
<rect x="639" y="354" width="1" height="26" fill="#000"/>
<rect x="637.5" y="333.5" width="4" height="20" fill="#fff" stroke="#000" stroke-width="1"/>
<rect x="647" y="281" width="1" height="16" fill="#000"/>
<rect x="647" y="333" width="1" height="32" fill="#000"/>
<rect x="645.5" y="297.5" width="4" height="35" fill="#fff" stroke="#000" stroke-width="1"/>
<rect x="655" y="285" width="1" height="28" fill="#000"/>
<rect x="653" y="297" width="5" height="12" fill="#000"/>
<rect x="663" y="309" width="1" height="12" fill="#000"/>
<rect x="661" y="312" width="5" height="9" fill="#000"/>
<rect x="671" y="302" width="1" height="5" fill="#000"/>
<rect x="671" y="319" width="1" height="10" fill="#000"/>
<rect x="669.5" y="307.5" width="4" height="11" fill="#fff" stroke="#000" stroke-width="1"/>
<rect x="679" y="290" width="1" height="7" fill="#000"/>
<rect x="679" y="308" width="1" height="23" fill="#000"/>
<rect x="677.5" y="297.5" width="4" height="10" fill="#fff" stroke="#000" stroke-width="1"/>
<rect x="687" y="240" width="1" height="9" fill="#000"/>
<rect x="685.5" y="249.5" width="4" height="47" fill="#fff" stroke="#000" stroke-width="1"/>
<rect x="695" y="230" width="1" height="3" fill="#000"/>
<rect x="695" y="249" width="1" height="17" fill="#000"/>
<rect x="693.5" y="233.5" width="4" height="15" fill="#fff" stroke="#000" stroke-width="1"/>
<rect x="703" y="200" width="1" height="4" fill="#000"/>
<rect x="703" y="234" width="1" height="11" fill="#000"/>
<rect x="701.5" y="204.5" width="4" height="29" fill="#fff" stroke="#000" stroke-width="1"/>
<rect x="711" y="203" width="1" height="8" fill="#000"/>
<rect x="709" y="205" width="5" height="6" fill="#000"/>
<rect x="719" y="209" width="1" height="30" fill="#000"/>
<rect x="717" y="210" width="5" height="23" fill="#000"/>
<rect x="727" y="211" width="1" height="55" fill="#000"/>
<rect x="725" y="233" width="5" height="21" fill="#000"/>
<rect x="735" y="238" width="1" height="28" fill="#000"/>
<rect x="733" y="253" width="5" height="7" fill="#000"/>
<rect x="743" y="250" width="1" height="31" fill="#000"/>
<rect x="741" y="259" width="5" height="8" fill="#000"/>
<rect x="751" y="241" width="1" height="7" fill="#000"/>
<rect x="751" y="267" width="1" height="19" fill="#000"/>
<rect x="749.5" y="248.5" width="4" height="18" fill="#fff" stroke="#000" stroke-width="1"/>
<rect x="759" y="251" width="1" height="2" fill="#000"/>
<rect x="757" y="252" width="5" height="1" fill="#000"/>
<rect x="767" y="220" width="1" height="28" fill="#000"/>
<rect x="765.5" y="248.5" width="4" height="5" fill="#fff" stroke="#000" stroke-width="1"/>
<rect x="775" y="239" width="1" height="48" fill="#000"/>
<rect x="773" y="248" width="5" height="27" fill="#000"/>
<rect x="783" y="271" width="1" height="25" fill="#000"/>
<rect x="781" y="274" width="5" height="7" fill="#000"/>
<rect x="791" y="268" width="1" height="47" fill="#000"/>
<rect x="789" y="279" width="5" height="6" fill="#000"/>
<rect x="799" y="271" width="1" height="22" fill="#000"/>
<rect x="797" y="284" width="5" height="5" fill="#000"/>
<rect x="807" y="284" width="1" height="2" fill="#000"/>
<rect x="805.5" y="286.5" width="4" height="2" fill="#fff" stroke="#000" stroke-width="1"/>
<rect x="815" y="270" width="1" height="23" fill="#000"/>
<rect x="813" y="286" width="5" height="2" fill="#000"/>
<rect x="823" y="268" width="1" height="6" fill="#000"/>
<rect x="823" y="288" width="1" height="4" fill="#000"/>
<rect x="821.5" y="274.5" width="4" height="13" fill="#fff" stroke="#000" stroke-width="1"/>
<rect x="831" y="247" width="1" height="23" fill="#000"/>
<rect x="831" y="274" width="1" height="1" fill="#000"/>
<rect x="829.5" y="270.5" width="4" height="3" fill="#fff" stroke="#000" stroke-width="1"/>
<rect x="839" y="256" width="1" height="54" fill="#000"/>
<rect x="837" y="269" width="5" height="36" fill="#000"/>
<rect x="847" y="275" width="1" height="3" fill="#000"/>
<rect x="847" y="305" width="1" height="14" fill="#000"/>
<rect x="845.5" y="278.5" width="4" height="26" fill="#fff" stroke="#000" stroke-width="1"/>
<rect x="855" y="271" width="1" height="1" fill="#000"/>
<rect x="853.5" y="267.5" width="4" height="3" fill="#fff" stroke="#000" stroke-width="1"/>
<rect x="863" y="256" width="1" height="4" fill="#000"/>
<rect x="863" y="268" width="1" height="4" fill="#000"/>
<rect x="861.5" y="260.5" width="4" height="7" fill="#fff" stroke="#000" stroke-width="1"/>
<rect x="871" y="204" width="1" height="9" fill="#000"/>
<rect x="871" y="260" width="1" height="14" fill="#000"/>
<rect x="869.5" y="213.5" width="4" height="46" fill="#fff" stroke="#000" stroke-width="1"/>
<rect x="879" y="193" width="1" height="30" fill="#000"/>
<rect x="877" y="212" width="5" height="2" fill="#000"/>
<rect x="887" y="197" width="1" height="27" fill="#000"/>
<rect x="885" y="211" width="5" height="5" fill="#000"/>
<rect x="895" y="203" width="1" height="5" fill="#000"/>
<rect x="895" y="216" width="1" height="17" fill="#000"/>
<rect x="893.5" y="208.5" width="4" height="7" fill="#fff" stroke="#000" stroke-width="1"/>
<rect x="901.5" y="203.5" width="4" height="2" fill="#fff" stroke="#000" stroke-width="1"/>
<rect x="911" y="205" width="1" height="8" fill="#000"/>
<rect x="909.5" y="172.5" width="4" height="32" fill="#fff" stroke="#000" stroke-width="1"/>
<rect x="919" y="131" width="1" height="15" fill="#000"/>
<rect x="919" y="172" width="1" height="11" fill="#000"/>
<rect x="917.5" y="146.5" width="4" height="25" fill="#fff" stroke="#000" stroke-width="1"/>
<rect x="927" y="101" width="1" height="13" fill="#000"/>
<rect x="927" y="147" width="1" height="13" fill="#000"/>
<rect x="925.5" y="114.5" width="4" height="32" fill="#fff" stroke="#000" stroke-width="1"/>
<rect x="935" y="94" width="1" height="17" fill="#000"/>
<rect x="935" y="114" width="1" height="21" fill="#000"/>
<rect x="933.5" y="111.5" width="4" height="2" fill="#fff" stroke="#000" stroke-width="1"/>
<rect x="943" y="85" width="1" height="27" fill="#000"/>
<rect x="941" y="111" width="5" height="1" fill="#000"/>
<rect x="949.5" y="97.5" width="4" height="6" fill="#fff" stroke="#000" stroke-width="1"/>
<rect x="959" y="93" width="1" height="37" fill="#000"/>
<rect x="957" y="97" width="5" height="28" fill="#000"/>
<rect x="967" y="109" width="1" height="37" fill="#000"/>
<rect x="965" y="124" width="5" height="5" fill="#000"/>
<rect x="975" y="124" width="1" height="20" fill="#000"/>
<rect x="973" y="128" width="5" height="2" fill="#000"/>
<rect x="983" y="124" width="1" height="47" fill="#000"/>
<rect x="981" y="129" width="5" height="32" fill="#000"/>
<rect x="991" y="160" width="1" height="57" fill="#000"/>
<rect x="989" y="160" width="5" height="49" fill="#000"/>
<rect x="999" y="213" width="1" height="6" fill="#000"/>
<rect x="997" y="218" width="5" height="1" fill="#000"/>
<rect x="1007" y="109" width="1" height="10" fill="#000"/>
<rect x="1007" y="219" width="1" height="16" fill="#000"/>
<rect x="1005.5" y="119.5" width="4" height="99" fill="#fff" stroke="#000" stroke-width="1"/>
<rect x="1015" y="119" width="1" height="90" fill="#000"/>
<rect x="1013" y="119" width="5" height="64" fill="#000"/>
<rect x="1023" y="81" width="1" height="29" fill="#000"/>
<rect x="1021.5" y="110.5" width="4" height="72" fill="#fff" stroke="#000" stroke-width="1"/>
<rect x="1031" y="75" width="1" height="22" fill="#000"/>
<rect x="1031" y="109" width="1" height="13" fill="#000"/>
<rect x="1029.5" y="97.5" width="4" height="11" fill="#fff" stroke="#000" stroke-width="1"/>
<rect x="1039" y="91" width="1" height="30" fill="#000"/>
<rect x="1037" y="97" width="5" height="3" fill="#000"/>
<rect x="1047" y="91" width="1" height="1" fill="#000"/>
<rect x="1045.5" y="92.5" width="4" height="4" fill="#fff" stroke="#000" stroke-width="1"/>
<rect x="1055" y="90" width="1" height="44" fill="#000"/>
<rect x="1053" y="92" width="5" height="18" fill="#000"/>
<rect x="1063" y="101" width="1" height="6" fill="#000"/>
<rect x="1063" y="110" width="1" height="7" fill="#000"/>
<rect x="1061.5" y="107.5" width="4" height="2" fill="#fff" stroke="#000" stroke-width="1"/>
<rect x="1071" y="100" width="1" height="69" fill="#000"/>
<rect x="1069" y="107" width="5" height="54" fill="#000"/>
<rect x="1079" y="152" width="1" height="70" fill="#000"/>
<rect x="1077" y="160" width="5" height="21" fill="#000"/>
<rect x="1087" y="172" width="1" height="38" fill="#000"/>
<rect x="1085" y="180" width="5" height="4" fill="#000"/>
<rect x="1095" y="179" width="1" height="4" fill="#000"/>
<rect x="1093.5" y="183.5" width="4" height="2" fill="#fff" stroke="#000" stroke-width="1"/>
<rect x="1103" y="170" width="1" height="37" fill="#000"/>
<rect x="1101" y="182" width="5" height="1" fill="#000"/>
<rect x="1111" y="150" width="1" height="12" fill="#000"/>
<rect x="1111" y="182" width="1" height="13" fill="#000"/>
<rect x="1109.5" y="162.5" width="4" height="19" fill="#fff" stroke="#000" stroke-width="1"/>
<rect x="1119" y="148" width="1" height="44" fill="#000"/>
<rect x="1117" y="162" width="5" height="24" fill="#000"/>
<rect x="1127" y="177" width="1" height="43" fill="#000"/>
<rect x="1125" y="185" width="5" height="29" fill="#000"/>
<rect x="1135" y="180" width="1" height="51" fill="#000"/>
<rect x="1133" y="213" width="5" height="10" fill="#000"/>
<rect x="1143" y="209" width="1" height="1" fill="#000"/>
<rect x="1143" y="212" width="1" height="3" fill="#000"/>
<rect x="1141.5" y="210.5" width="4" height="1" fill="#fff" stroke="#000" stroke-width="1"/>
<rect x="1151" y="153" width="1" height="22" fill="#000"/>
<rect x="1151" y="210" width="1" height="4" fill="#000"/>
<rect x="1149.5" y="175.5" width="4" height="34" fill="#fff" stroke="#000" stroke-width="1"/>
<rect x="1159" y="150" width="1" height="12" fill="#000"/>
<rect x="1159" y="175" width="1" height="23" fill="#000"/>
<rect x="1157.5" y="162.5" width="4" height="12" fill="#fff" stroke="#000" stroke-width="1"/>
<rect x="1167" y="127" width="1" height="13" fill="#000"/>
<rect x="1167" y="160" width="1" height="4" fill="#000"/>
<rect x="1165.5" y="140.5" width="4" height="19" fill="#fff" stroke="#000" stroke-width="1"/>
<rect x="1175" y="134" width="1" height="41" fill="#000"/>
<rect x="1173" y="140" width="5" height="26" fill="#000"/>
<rect x="1183" y="147" width="1" height="45" fill="#000"/>
<rect x="1181" y="165" width="5" height="15" fill="#000"/>
<rect x="1189.5" y="175.5" width="4" height="2" fill="#fff" stroke="#000" stroke-width="1"/>
<rect x="1199" y="171" width="1" height="22" fill="#000"/>
<rect x="1197" y="175" width="5" height="3" fill="#000"/>
<rect x="1207" y="162" width="1" height="40" fill="#000"/>
<rect x="1205" y="177" width="5" height="18" fill="#000"/>
<rect x="1215" y="173" width="1" height="11" fill="#000"/>
<rect x="1215" y="195" width="1" height="2" fill="#000"/>
<rect x="1213.5" y="184.5" width="4" height="10" fill="#fff" stroke="#000" stroke-width="1"/>
<rect x="1223" y="165" width="1" height="7" fill="#000"/>
<rect x="1223" y="185" width="1" height="7" fill="#000"/>
<rect x="1221.5" y="172.5" width="4" height="12" fill="#fff" stroke="#000" stroke-width="1"/>
<rect x="1231" y="133" width="1" height="14" fill="#000"/>
<rect x="1231" y="173" width="1" height="1" fill="#000"/>
<rect x="1229.5" y="147.5" width="4" height="25" fill="#fff" stroke="#000" stroke-width="1"/>
<rect x="1237.5" y="146.5" width="4" height="3" fill="#fff" stroke="#000" stroke-width="1"/>
<rect x="1247" y="133" width="1" height="11" fill="#000"/>
<rect x="1247" y="147" width="1" height="7" fill="#000"/>
<rect x="1245.5" y="144.5" width="4" height="2" fill="#fff" stroke="#000" stroke-width="1"/>
<rect x="1255" y="141" width="1" height="25" fill="#000"/>
<rect x="1253" y="144" width="5" height="20" fill="#000"/>
<rect x="1263" y="155" width="1" height="15" fill="#000"/>
<rect x="1261" y="162" width="5" height="2" fill="#000"/>
<rect x="1271" y="163" width="1" height="24" fill="#000"/>
<rect x="1269" y="163" width="5" height="23" fill="#000"/>
<rect x="1279" y="181" width="1" height="2" fill="#000"/>
<rect x="1277" y="182" width="5" height="1" fill="#000"/>
<rect x="1287" y="179" width="1" height="10" fill="#000"/>
<rect x="1285" y="182" width="5" height="5" fill="#000"/>
<rect x="1295" y="175" width="1" height="34" fill="#000"/>
<rect x="1293" y="186" width="5" height="18" fill="#000"/>
<rect x="1303" y="194" width="1" height="20" fill="#000"/>
<rect x="1301" y="203" width="5" height="1" fill="#000"/>
<rect x="1311" y="199" width="1" height="35" fill="#000"/>
<rect x="1309" y="203" width="5" height="27" fill="#000"/>
<rect x="1319" y="212" width="1" height="4" fill="#000"/>
<rect x="1319" y="230" width="1" height="4" fill="#000"/>
<rect x="1317.5" y="216.5" width="4" height="13" fill="#fff" stroke="#000" stroke-width="1"/>
<rect x="1327" y="218" width="1" height="2" fill="#000"/>
<rect x="1325" y="218" width="5" height="2" fill="#000"/>
<rect x="1335" y="204" width="1" height="8" fill="#000"/>
<rect x="1335" y="219" width="1" height="2" fill="#000"/>
<rect x="1333.5" y="212.5" width="4" height="6" fill="#fff" stroke="#000" stroke-width="1"/>
<rect x="1343" y="183" width="1" height="3" fill="#000"/>
<rect x="1343" y="212" width="1" height="12" fill="#000"/>
<rect x="1341.5" y="186.5" width="4" height="25" fill="#fff" stroke="#000" stroke-width="1"/>
<rect x="1351" y="173" width="1" height="7" fill="#000"/>
<rect x="1349.5" y="180.5" width="4" height="5" fill="#fff" stroke="#000" stroke-width="1"/>
<rect x="1359" y="168" width="1" height="25" fill="#000"/>
<rect x="1357" y="180" width="5" height="6" fill="#000"/>
<rect x="1367" y="148" width="1" height="8" fill="#000"/>
<rect x="1367" y="186" width="1" height="16" fill="#000"/>
<rect x="1365.5" y="156.5" width="4" height="29" fill="#fff" stroke="#000" stroke-width="1"/>
<rect x="1375" y="166" width="1" height="15" fill="#000"/>
<rect x="1373" y="167" width="5" height="14" fill="#000"/>
<rect x="1383" y="178" width="1" height="21" fill="#000"/>
<rect x="1381" y="180" width="5" height="12" fill="#000"/>
<rect x="1391" y="184" width="1" height="47" fill="#000"/>
<rect x="1389" y="191" width="5" height="33" fill="#000"/>
<rect x="1399" y="223" width="1" height="33" fill="#000"/>
<rect x="1397" y="223" width="5" height="31" fill="#000"/>
<rect x="1407" y="250" width="1" height="29" fill="#000"/>
<rect x="1405" y="252" width="5" height="10" fill="#000"/>
<rect x="1415" y="249" width="1" height="9" fill="#000"/>
<rect x="1415" y="261" width="1" height="12" fill="#000"/>
<rect x="1413.5" y="258.5" width="4" height="2" fill="#fff" stroke="#000" stroke-width="1"/>
<rect x="1423" y="263" width="1" height="6" fill="#000"/>
<rect x="1421" y="264" width="5" height="5" fill="#000"/>
<rect x="1431" y="261" width="1" height="52" fill="#000"/>
<rect x="1429" y="268" width="5" height="34" fill="#000"/>
</g>
<rect x="1360" y="279" width="86" height="11" fill="#00ff00" shape-rendering="crispEdges"/>
<text x="1083.7" y="326.3" font-size="32.5" fill="#000"><tspan font-family='"Liberation Sans", "Noto Sans CJK SC", sans-serif' font-weight="500" letter-spacing="0.75">多空转折点</tspan><tspan font-family='"Liberation Sans", sans-serif' font-weight="bold">142.064</tspan></text>
<text x="1082.7" y="325.3" font-size="32.5" fill="#00ff00"><tspan font-family='"Liberation Sans", "Noto Sans CJK SC", sans-serif' font-weight="500" letter-spacing="0.75">多空转折点</tspan><tspan font-family='"Liberation Sans", sans-serif' font-weight="bold">142.064</tspan></text>
<path d="M1441.5 30h10l-5 4.6z" fill="#a8a8a8"/>
<defs>
<linearGradient id="gs" x1="0" y1="49" x2="0" y2="113" gradientUnits="userSpaceOnUse">
<stop offset="0" stop-color="#5a5aff"/><stop offset="0.38" stop-color="#3a3aee"/><stop offset="0.4" stop-color="#2f2fdc"/><stop offset="1" stop-color="#0505a8"/>
</linearGradient></defs>
<rect x="0" y="47" width="222" height="68" fill="#fff"/>
<g shape-rendering="crispEdges">
<path d="M2 49H54V73H111V113H2Z" fill="url(#gs)"/>
<path d="M169 49H221V113H113V73H169Z" fill="url(#gs)"/>
<path d="M2.5 112.5V49.5H53.5V73.5" fill="none" stroke="#1c1cb8" stroke-opacity="0.7"/>
<path d="M113.5 112.5V73.5H169.5V49.5H220.5V112.5" fill="none" stroke="#1c1cb8" stroke-opacity="0.7"/>
<rect x="6" y="73" width="44" height="1" fill="#7a7aff"/>
<rect x="173" y="73" width="44" height="1" fill="#7a7aff"/>
<rect x="56.5" y="49.5" width="110" height="21" fill="#fff" stroke="#a9a9a9"/>
<rect x="57" y="50" width="20" height="20" fill="#e8e8e8"/><rect x="77" y="50" width="1" height="20" fill="#a9a9a9"/>
<rect x="146" y="50" width="20" height="20" fill="#e8e8e8"/><rect x="145" y="50" width="1" height="20" fill="#a9a9a9"/>
</g>
<path d="M63.5 58h6l-3 3.2z" fill="#000"/><path d="M152.5 61.2h6l-3-3.2z" fill="#000"/>
<text x="142.6" y="64.3" font-size="12.5" fill="#000" font-family='"Liberation Sans", Arial, sans-serif' text-anchor="end">1.00</text>
<text x="14.6" y="64.7" font-size="11.3" fill="#fff" font-family='"Liberation Sans", Arial, sans-serif' textLength="25.4" lengthAdjust="spacingAndGlyphs">SELL</text>
<text x="182.8" y="64.7" font-size="11.3" fill="#fff" font-family='"Liberation Sans", Arial, sans-serif' textLength="23.1" lengthAdjust="spacingAndGlyphs">BUY</text>
<text x="25.8" y="104" font-size="12.6" fill="#fff" font-family='"Liberation Sans", Arial, sans-serif' textLength="19.2" lengthAdjust="spacingAndGlyphs" font-weight="bold">141</text>
<text x="135.7" y="104" font-size="12.6" fill="#fff" font-family='"Liberation Sans", Arial, sans-serif' textLength="19.2" lengthAdjust="spacingAndGlyphs" font-weight="bold">141</text>
<text x="50.6" y="104.6" font-size="35.5" fill="#fff" font-family='"Liberation Sans", Arial, sans-serif' textLength="33.6" lengthAdjust="spacingAndGlyphs">53</text>
<text x="161.3" y="104.6" font-size="35.5" fill="#fff" font-family='"Liberation Sans", Arial, sans-serif' textLength="34.6" lengthAdjust="spacingAndGlyphs">58</text>
<text x="89.6" y="88" font-size="12.3" fill="#fff" font-family='"Liberation Sans", Arial, sans-serif' textLength="6.6" lengthAdjust="spacingAndGlyphs" font-weight="bold">6</text>
<text x="200.6" y="88" font-size="12.3" fill="#fff" font-family='"Liberation Sans", Arial, sans-serif' textLength="6.6" lengthAdjust="spacingAndGlyphs" font-weight="bold">5</text>
<path d="M2 40h7l-3.5-4.3z" fill="#000"/>
<text x="14" y="41" font-size="10.4" fill="#000" font-family='"Liberation Sans", Arial, sans-serif' textLength="62.5" lengthAdjust="spacingAndGlyphs">GBPJPY-,Daily</text>
<text x="83.4" y="41" font-size="10.4" fill="#000" font-family='"Liberation Sans", Arial, sans-serif' textLength="140.4" lengthAdjust="spacingAndGlyphs">142.623 142.854 141.196 141.536</text>
<g shape-rendering="crispEdges">
<rect x="7" y="652" width="1" height="19" fill="#c0c0c0"/>
<rect x="15" y="655" width="1" height="16" fill="#c0c0c0"/>
<rect x="23" y="663" width="1" height="8" fill="#c0c0c0"/>
<rect x="31" y="665" width="1" height="6" fill="#c0c0c0"/>
<rect x="39" y="668" width="1" height="3" fill="#c0c0c0"/>
<rect x="47" y="670" width="1" height="4" fill="#c0c0c0"/>
<rect x="55" y="670" width="1" height="9" fill="#c0c0c0"/>
<rect x="63" y="670" width="1" height="20" fill="#c0c0c0"/>
<rect x="71" y="670" width="1" height="29" fill="#c0c0c0"/>
<rect x="79" y="670" width="1" height="38" fill="#c0c0c0"/>
<rect x="87" y="670" width="1" height="45" fill="#c0c0c0"/>
<rect x="95" y="670" width="1" height="48" fill="#c0c0c0"/>
<rect x="103" y="670" width="1" height="51" fill="#c0c0c0"/>
<rect x="111" y="670" width="1" height="51" fill="#c0c0c0"/>
<rect x="119" y="670" width="1" height="40" fill="#c0c0c0"/>
<rect x="127" y="670" width="1" height="30" fill="#c0c0c0"/>
<rect x="135" y="670" width="1" height="21" fill="#c0c0c0"/>
<rect x="143" y="670" width="1" height="10" fill="#c0c0c0"/>
<rect x="151" y="668" width="1" height="3" fill="#c0c0c0"/>
<rect x="159" y="656" width="1" height="15" fill="#c0c0c0"/>
<rect x="167" y="648" width="1" height="23" fill="#c0c0c0"/>
<rect x="175" y="648" width="1" height="23" fill="#c0c0c0"/>
<rect x="183" y="649" width="1" height="22" fill="#c0c0c0"/>
<rect x="191" y="655" width="1" height="16" fill="#c0c0c0"/>
<rect x="199" y="653" width="1" height="18" fill="#c0c0c0"/>
<rect x="207" y="653" width="1" height="18" fill="#c0c0c0"/>
<rect x="215" y="664" width="1" height="7" fill="#c0c0c0"/>
<rect x="223" y="670" width="1" height="4" fill="#c0c0c0"/>
<rect x="231" y="670" width="1" height="11" fill="#c0c0c0"/>
<rect x="239" y="670" width="1" height="17" fill="#c0c0c0"/>
<rect x="247" y="670" width="1" height="24" fill="#c0c0c0"/>
<rect x="255" y="670" width="1" height="28" fill="#c0c0c0"/>
<rect x="263" y="670" width="1" height="26" fill="#c0c0c0"/>
<rect x="271" y="670" width="1" height="28" fill="#c0c0c0"/>
<rect x="279" y="670" width="1" height="29" fill="#c0c0c0"/>
<rect x="287" y="670" width="1" height="26" fill="#c0c0c0"/>
<rect x="295" y="670" width="1" height="26" fill="#c0c0c0"/>
<rect x="303" y="670" width="1" height="22" fill="#c0c0c0"/>
<rect x="311" y="670" width="1" height="22" fill="#c0c0c0"/>
<rect x="319" y="670" width="1" height="23" fill="#c0c0c0"/>
<rect x="327" y="670" width="1" height="21" fill="#c0c0c0"/>
<rect x="335" y="670" width="1" height="22" fill="#c0c0c0"/>
<rect x="343" y="670" width="1" height="28" fill="#c0c0c0"/>
<rect x="351" y="670" width="1" height="30" fill="#c0c0c0"/>
<rect x="359" y="670" width="1" height="30" fill="#c0c0c0"/>
<rect x="367" y="670" width="1" height="32" fill="#c0c0c0"/>
<rect x="375" y="670" width="1" height="35" fill="#c0c0c0"/>
<rect x="383" y="670" width="1" height="41" fill="#c0c0c0"/>
<rect x="391" y="670" width="1" height="47" fill="#c0c0c0"/>
<rect x="399" y="670" width="1" height="46" fill="#c0c0c0"/>
<rect x="407" y="670" width="1" height="42" fill="#c0c0c0"/>
<rect x="415" y="670" width="1" height="43" fill="#c0c0c0"/>
<rect x="423" y="670" width="1" height="43" fill="#c0c0c0"/>
<rect x="431" y="670" width="1" height="44" fill="#c0c0c0"/>
<rect x="439" y="670" width="1" height="44" fill="#c0c0c0"/>
<rect x="447" y="670" width="1" height="45" fill="#c0c0c0"/>
<rect x="455" y="670" width="1" height="50" fill="#c0c0c0"/>
<rect x="463" y="670" width="1" height="54" fill="#c0c0c0"/>
<rect x="471" y="670" width="1" height="57" fill="#c0c0c0"/>
<rect x="479" y="670" width="1" height="61" fill="#c0c0c0"/>
<rect x="487" y="670" width="1" height="63" fill="#c0c0c0"/>
<rect x="495" y="670" width="1" height="61" fill="#c0c0c0"/>
<rect x="503" y="670" width="1" height="61" fill="#c0c0c0"/>
<rect x="511" y="670" width="1" height="61" fill="#c0c0c0"/>
<rect x="519" y="670" width="1" height="61" fill="#c0c0c0"/>
<rect x="527" y="670" width="1" height="61" fill="#c0c0c0"/>
<rect x="535" y="670" width="1" height="60" fill="#c0c0c0"/>
<rect x="543" y="670" width="1" height="80" fill="#c0c0c0"/>
<rect x="551" y="670" width="1" height="89" fill="#c0c0c0"/>
<rect x="559" y="670" width="1" height="86" fill="#c0c0c0"/>
<rect x="567" y="670" width="1" height="83" fill="#c0c0c0"/>
<rect x="575" y="670" width="1" height="77" fill="#c0c0c0"/>
<rect x="583" y="670" width="1" height="72" fill="#c0c0c0"/>
<rect x="591" y="670" width="1" height="68" fill="#c0c0c0"/>
<rect x="599" y="670" width="1" height="66" fill="#c0c0c0"/>
<rect x="607" y="670" width="1" height="58" fill="#c0c0c0"/>
<rect x="615" y="670" width="1" height="52" fill="#c0c0c0"/>
<rect x="623" y="670" width="1" height="46" fill="#c0c0c0"/>
<rect x="631" y="670" width="1" height="39" fill="#c0c0c0"/>
<rect x="639" y="670" width="1" height="30" fill="#c0c0c0"/>
<rect x="647" y="670" width="1" height="18" fill="#c0c0c0"/>
<rect x="655" y="670" width="1" height="10" fill="#c0c0c0"/>
<rect x="663" y="670" width="1" height="5" fill="#c0c0c0"/>
<rect x="671" y="668" width="1" height="3" fill="#c0c0c0"/>
<rect x="679" y="663" width="1" height="8" fill="#c0c0c0"/>
<rect x="687" y="652" width="1" height="19" fill="#c0c0c0"/>
<rect x="695" y="642" width="1" height="29" fill="#c0c0c0"/>
<rect x="703" y="630" width="1" height="41" fill="#c0c0c0"/>
<rect x="711" y="622" width="1" height="49" fill="#c0c0c0"/>
<rect x="719" y="619" width="1" height="52" fill="#c0c0c0"/>
<rect x="727" y="620" width="1" height="51" fill="#c0c0c0"/>
<rect x="735" y="623" width="1" height="48" fill="#c0c0c0"/>
<rect x="743" y="626" width="1" height="45" fill="#c0c0c0"/>
<rect x="751" y="627" width="1" height="44" fill="#c0c0c0"/>
<rect x="759" y="628" width="1" height="43" fill="#c0c0c0"/>
<rect x="767" y="630" width="1" height="41" fill="#c0c0c0"/>
<rect x="775" y="635" width="1" height="36" fill="#c0c0c0"/>
<rect x="783" y="639" width="1" height="32" fill="#c0c0c0"/>
<rect x="791" y="644" width="1" height="27" fill="#c0c0c0"/>
<rect x="799" y="649" width="1" height="22" fill="#c0c0c0"/>
<rect x="807" y="653" width="1" height="18" fill="#c0c0c0"/>
<rect x="815" y="656" width="1" height="15" fill="#c0c0c0"/>
<rect x="823" y="657" width="1" height="14" fill="#c0c0c0"/>
<rect x="831" y="657" width="1" height="14" fill="#c0c0c0"/>
<rect x="839" y="662" width="1" height="9" fill="#c0c0c0"/>
<rect x="847" y="662" width="1" height="9" fill="#c0c0c0"/>
<rect x="855" y="661" width="1" height="10" fill="#c0c0c0"/>
<rect x="863" y="660" width="1" height="11" fill="#c0c0c0"/>
<rect x="871" y="652" width="1" height="19" fill="#c0c0c0"/>
<rect x="879" y="647" width="1" height="24" fill="#c0c0c0"/>
<rect x="887" y="643" width="1" height="28" fill="#c0c0c0"/>
<rect x="895" y="639" width="1" height="32" fill="#c0c0c0"/>
<rect x="903" y="636" width="1" height="35" fill="#c0c0c0"/>
<rect x="911" y="630" width="1" height="41" fill="#c0c0c0"/>
<rect x="919" y="622" width="1" height="49" fill="#c0c0c0"/>
<rect x="927" y="612" width="1" height="59" fill="#c0c0c0"/>
<rect x="935" y="604" width="1" height="67" fill="#c0c0c0"/>
<rect x="943" y="599" width="1" height="72" fill="#c0c0c0"/>
<rect x="951" y="594" width="1" height="77" fill="#c0c0c0"/>
<rect x="959" y="595" width="1" height="76" fill="#c0c0c0"/>
<rect x="967" y="597" width="1" height="74" fill="#c0c0c0"/>
<rect x="975" y="599" width="1" height="72" fill="#c0c0c0"/>
<rect x="983" y="606" width="1" height="65" fill="#c0c0c0"/>
<rect x="991" y="618" width="1" height="53" fill="#c0c0c0"/>
<rect x="999" y="630" width="1" height="41" fill="#c0c0c0"/>
<rect x="1007" y="626" width="1" height="45" fill="#c0c0c0"/>
<rect x="1015" y="632" width="1" height="39" fill="#c0c0c0"/>
<rect x="1023" y="628" width="1" height="43" fill="#c0c0c0"/>
<rect x="1031" y="623" width="1" height="48" fill="#c0c0c0"/>
<rect x="1039" y="620" width="1" height="51" fill="#c0c0c0"/>
<rect x="1047" y="618" width="1" height="53" fill="#c0c0c0"/>
<rect x="1055" y="619" width="1" height="52" fill="#c0c0c0"/>
<rect x="1063" y="620" width="1" height="51" fill="#c0c0c0"/>
<rect x="1071" y="628" width="1" height="43" fill="#c0c0c0"/>
<rect x="1079" y="638" width="1" height="33" fill="#c0c0c0"/>
<rect x="1087" y="646" width="1" height="25" fill="#c0c0c0"/>
<rect x="1095" y="653" width="1" height="18" fill="#c0c0c0"/>
<rect x="1103" y="658" width="1" height="13" fill="#c0c0c0"/>
<rect x="1111" y="660" width="1" height="11" fill="#c0c0c0"/>
<rect x="1119" y="665" width="1" height="6" fill="#c0c0c0"/>
<rect x="1127" y="670" width="1" height="3" fill="#c0c0c0"/>
<rect x="1135" y="670" width="1" height="10" fill="#c0c0c0"/>
<rect x="1143" y="670" width="1" height="14" fill="#c0c0c0"/>
<rect x="1151" y="670" width="1" height="12" fill="#c0c0c0"/>
<rect x="1159" y="670" width="1" height="8" fill="#c0c0c0"/>
<rect x="1167" y="670" width="1" height="3" fill="#c0c0c0"/>
<rect x="1175" y="670" width="1" height="2" fill="#c0c0c0"/>
<rect x="1183" y="670" width="1" height="3" fill="#c0c0c0"/>
<rect x="1191" y="670" width="1" height="3" fill="#c0c0c0"/>
<rect x="1199" y="670" width="1" height="3" fill="#c0c0c0"/>
<rect x="1207" y="670" width="1" height="6" fill="#c0c0c0"/>
<rect x="1215" y="670" width="1" height="7" fill="#c0c0c0"/>
<rect x="1223" y="670" width="1" height="6" fill="#c0c0c0"/>
<rect x="1231" y="670" width="1" height="1" fill="#c0c0c0"/>
<rect x="1239" y="667" width="1" height="4" fill="#c0c0c0"/>
<rect x="1247" y="664" width="1" height="7" fill="#c0c0c0"/>
<rect x="1255" y="664" width="1" height="7" fill="#c0c0c0"/>
<rect x="1263" y="664" width="1" height="7" fill="#c0c0c0"/>
<rect x="1271" y="668" width="1" height="3" fill="#c0c0c0"/>
<rect x="1279" y="670" width="1" height="1" fill="#c0c0c0"/>
<rect x="1287" y="670" width="1" height="3" fill="#c0c0c0"/>
<rect x="1295" y="670" width="1" height="7" fill="#c0c0c0"/>
<rect x="1303" y="670" width="1" height="10" fill="#c0c0c0"/>
<rect x="1311" y="670" width="1" height="16" fill="#c0c0c0"/>
<rect x="1319" y="670" width="1" height="18" fill="#c0c0c0"/>
<rect x="1327" y="670" width="1" height="21" fill="#c0c0c0"/>
<rect x="1335" y="670" width="1" height="21" fill="#c0c0c0"/>
<rect x="1343" y="670" width="1" height="18" fill="#c0c0c0"/>
<rect x="1351" y="670" width="1" height="15" fill="#c0c0c0"/>
<rect x="1359" y="670" width="1" height="12" fill="#c0c0c0"/>
<rect x="1367" y="670" width="1" height="7" fill="#c0c0c0"/>
<rect x="1375" y="670" width="1" height="5" fill="#c0c0c0"/>
<rect x="1383" y="670" width="1" height="6" fill="#c0c0c0"/>
<rect x="1391" y="670" width="1" height="10" fill="#c0c0c0"/>
<rect x="1399" y="670" width="1" height="17" fill="#c0c0c0"/>
<rect x="1407" y="670" width="1" height="24" fill="#c0c0c0"/>
<rect x="1415" y="670" width="1" height="29" fill="#c0c0c0"/>
<rect x="1423" y="670" width="1" height="33" fill="#c0c0c0"/>
<rect x="1431" y="670" width="1" height="41" fill="#c0c0c0"/>
</g>
<polyline fill="none" stroke="#ff0000" stroke-width="1" stroke-dasharray="3,3" shape-rendering="crispEdges" points="-0.5,631.4 7.5,636.0 15.5,640.4 23.5,645.1 31.5,649.5 39.5,653.7 47.5,657.8 55.5,661.9 63.5,666.6 71.5,671.8 79.5,677.9 87.5,684.5 95.5,690.5 103.5,696.6 111.5,702.4 119.5,706.4 127.5,708.7 135.5,708.8 143.5,706.7 151.5,702.4 159.5,696.0 167.5,688.4 175.5,680.3 183.5,672.4 191.5,666.4 199.5,661.2 207.5,657.1 215.5,655.3 223.5,655.9 231.5,658.5 239.5,662.8 247.5,667.8 255.5,673.1 263.5,677.5 271.5,682.5 279.5,687.5 287.5,691.0 295.5,693.5 303.5,694.7 311.5,695.2 319.5,695.1 327.5,694.4 335.5,694.0 343.5,694.0 351.5,694.1 359.5,694.5 367.5,695.2 375.5,696.7 383.5,698.8 391.5,701.5 399.5,704.3 407.5,706.5 415.5,708.2 423.5,709.6 431.5,711.0 439.5,712.3 447.5,713.4 455.5,714.4 463.5,715.1 471.5,716.3 479.5,718.4 487.5,720.6 495.5,722.6 503.5,724.6 511.5,726.6 519.5,728.3 527.5,729.5 535.5,730.1 543.5,732.7 551.5,735.8 559.5,738.3 567.5,740.7 575.5,742.3 583.5,743.6 591.5,744.4 599.5,745.0 607.5,744.9 615.5,741.7 623.5,737.0 631.5,731.8 639.5,726.0 647.5,719.5 655.5,712.6 663.5,705.5 671.5,698.1 679.5,691.0 687.5,683.3 695.5,675.2 703.5,666.5 711.5,657.9 719.5,650.4 727.5,643.9 735.5,638.1 743.5,633.4 751.5,629.4 759.5,626.8 767.5,625.5 775.5,626.0 783.5,628.0 791.5,630.8 799.5,633.9 807.5,637.3 815.5,640.6 823.5,643.8 831.5,647.0 839.5,650.6 847.5,653.6 855.5,656.0 863.5,657.7 871.5,658.1 879.5,657.4 887.5,656.0 895.5,654.1 903.5,651.8 911.5,648.2 919.5,643.7 927.5,638.2 935.5,632.1 943.5,626.2 951.5,620.4 959.5,615.1 967.5,610.4 975.5,606.2 983.5,603.6 991.5,603.1 999.5,605.1 1007.5,607.6 1015.5,611.2 1023.5,615.0 1031.5,618.2 1039.5,620.8 1047.5,622.9 1055.5,624.4 1063.5,624.6 1071.5,624.4 1079.5,625.6 1087.5,627.1 1095.5,629.9 1103.5,633.8 1111.5,638.2 1119.5,643.4 1127.5,649.3 1135.5,655.9 1143.5,662.0 1151.5,666.8 1159.5,670.3 1167.5,672.4 1175.5,673.8 1183.5,675.1 1191.5,675.9 1199.5,675.9 1207.5,675.5 1215.5,674.7 1223.5,674.0 1231.5,673.2 1239.5,672.6 1247.5,671.9 1255.5,671.0 1263.5,670.2 1271.5,669.6 1279.5,669.0 1287.5,668.6 1295.5,668.8 1303.5,669.8 1311.5,671.8 1319.5,674.4 1327.5,677.2 1335.5,680.1 1343.5,682.3 1351.5,683.8 1359.5,684.9 1367.5,684.8 1375.5,684.3 1383.5,683.2 1391.5,682.2 1399.5,681.9 1407.5,682.2 1415.5,683.4 1423.5,685.5 1431.5,688.6"/>
<text x="2.5" y="597" font-size="10.4" fill="#000" font-family='"Liberation Sans", Arial, sans-serif' textLength="135" lengthAdjust="spacingAndGlyphs">MACD(12,26,9) -0.7723 -0.3476</text>
<g shape-rendering="crispEdges" fill="#000"><rect x="1628" y="586" width="1" height="1"/><rect x="1628" y="670" width="2" height="1"/><rect x="1628" y="766" width="2" height="1"/></g>
<text x="1631" y="595" font-size="10.4" fill="#000" font-family='"Liberation Sans", Arial, sans-serif' textLength="23" lengthAdjust="spacingAndGlyphs">1.628</text>
<text x="1631" y="674" font-size="10.4" fill="#000" font-family='"Liberation Sans", Arial, sans-serif' textLength="17.8" lengthAdjust="spacingAndGlyphs">0.00</text>
<text x="1630.3" y="765" font-size="10.4" fill="#000" font-family='"Liberation Sans", Arial, sans-serif' textLength="38" lengthAdjust="spacingAndGlyphs">-1.8503</text>
<g stroke="#c0c0c0" stroke-width="1" stroke-dasharray="3,3" shape-rendering="crispEdges">
<line x1="0" y1="802.5" x2="1627" y2="802.5"/>
<line x1="0" y1="849.5" x2="1627" y2="849.5"/>
<line x1="0" y1="905.5" x2="1627" y2="905.5"/>
</g>
<polyline fill="none" stroke="#1e90ff" stroke-width="1" shape-rendering="crispEdges" points="-0.5,854.5 7.5,844.2 15.5,850.3 23.5,862.3 31.5,852.9 39.5,854.2 47.5,859.9 55.5,861.6 63.5,872.9 71.5,874.5 79.5,877.4 87.5,876.8 95.5,874.0 103.5,874.8 111.5,869.4 119.5,843.9 127.5,842.1 135.5,839.4 143.5,834.5 151.5,828.6 159.5,825.0 167.5,827.3 175.5,840.9 183.5,845.5 191.5,855.5 199.5,841.1 207.5,845.2 215.5,862.2 223.5,863.4 231.5,863.9 239.5,864.3 247.5,867.3 255.5,864.7 263.5,854.6 271.5,861.1 279.5,860.2 287.5,853.3 295.5,856.6 303.5,851.0 311.5,856.1 319.5,858.0 327.5,854.7 335.5,859.5 343.5,869.1 351.5,863.2 359.5,860.9 367.5,864.3 375.5,868.3 383.5,875.0 391.5,878.4 399.5,862.3 407.5,855.7 415.5,864.5 423.5,862.7 431.5,865.1 439.5,865.1 447.5,868.5 455.5,876.1 463.5,877.3 471.5,878.3 479.5,880.5 487.5,880.8 495.5,871.6 503.5,875.4 511.5,875.7 519.5,877.0 527.5,878.6 535.5,877.7 543.5,903.0 551.5,883.8 559.5,865.6 567.5,866.0 575.5,860.6 583.5,862.6 591.5,862.8 599.5,865.3 607.5,854.4 615.5,854.4 623.5,854.4 631.5,849.9 639.5,844.0 647.5,835.2 655.5,838.8 663.5,842.6 671.5,839.2 679.5,836.6 687.5,825.9 695.5,822.7 703.5,817.8 711.5,820.0 719.5,828.3 727.5,835.8 735.5,837.8 743.5,840.4 751.5,835.7 759.5,837.0 767.5,836.0 775.5,845.9 783.5,848.0 791.5,849.7 799.5,851.0 807.5,850.5 815.5,850.6 823.5,844.8 831.5,843.0 839.5,858.3 847.5,847.0 855.5,842.9 863.5,840.3 871.5,826.0 879.5,825.9 887.5,826.9 895.5,825.1 903.5,823.6 911.5,815.3 919.5,810.0 927.5,804.4 935.5,804.1 943.5,804.0 951.5,801.8 959.5,817.7 967.5,819.9 975.5,820.3 983.5,836.7 991.5,855.1 999.5,858.5 1007.5,831.0 1015.5,848.1 1023.5,834.5 1031.5,832.3 1039.5,832.6 1047.5,831.5 1055.5,836.5 1063.5,835.9 1071.5,850.2 1079.5,854.8 1087.5,855.5 1095.5,855.7 1103.5,855.3 1111.5,849.2 1119.5,855.5 1127.5,862.6 1135.5,865.0 1143.5,860.6 1151.5,849.7 1159.5,845.8 1167.5,840.1 1175.5,847.7 1183.5,851.8 1191.5,850.8 1199.5,851.1 1207.5,856.5 1215.5,853.1 1223.5,848.8 1231.5,840.7 1239.5,840.5 1247.5,839.8 1255.5,847.5 1263.5,847.4 1271.5,856.2 1279.5,854.8 1287.5,856.3 1295.5,862.8 1303.5,862.9 1311.5,871.8 1319.5,865.0 1327.5,865.9 1335.5,861.9 1343.5,849.5 1351.5,846.9 1359.5,849.4 1367.5,837.2 1375.5,847.9 1383.5,852.5 1391.5,863.9 1399.5,872.4 1407.5,874.4 1415.5,873.2 1423.5,875.8 1431.5,883.7"/>
<text x="3" y="782" font-size="10.4" fill="#000" font-family='"Liberation Sans", Arial, sans-serif' textLength="68" lengthAdjust="spacingAndGlyphs">RSI(14) 28.4585</text>
<g shape-rendering="crispEdges" fill="#000"><rect x="1628" y="771" width="2" height="1"/></g>
<text x="1631" y="780" font-size="10.4" fill="#000" font-family='"Liberation Sans", Arial, sans-serif' textLength="15.5" lengthAdjust="spacingAndGlyphs">100</text>
<text x="1629.3" y="806" font-size="10.4" fill="#000" font-family='"Liberation Sans", Arial, sans-serif' textLength="10.8" lengthAdjust="spacingAndGlyphs">80</text>
<text x="1629.3" y="853" font-size="10.4" fill="#000" font-family='"Liberation Sans", Arial, sans-serif' textLength="10.8" lengthAdjust="spacingAndGlyphs">50</text>
<text x="1630" y="909" font-size="10.4" fill="#000" font-family='"Liberation Sans", Arial, sans-serif' textLength="10.8" lengthAdjust="spacingAndGlyphs">15</text>
<text x="1630.5" y="926" font-size="10.4" fill="#000" font-family='"Liberation Sans", Arial, sans-serif' textLength="5.5" lengthAdjust="spacingAndGlyphs">0</text>
<g shape-rendering="crispEdges" fill="#000">
<rect x="0" y="29" width="1628" height="1"/>
<rect x="1627" y="29" width="1" height="901"/>
<rect x="0" y="582" width="1628" height="1"/>
<rect x="0" y="584" width="1628" height="1"/>
<rect x="0" y="767" width="1628" height="1"/>
<rect x="0" y="769" width="1628" height="1"/>
<rect x="0" y="929" width="1628" height="1"/>
</g>
<g shape-rendering="crispEdges">
<rect x="1628" y="51" width="2" height="1" fill="#000"/>
<text x="1632.6" y="55" font-size="10.4" fill="#000" font-family='"Liberation Sans", Arial, sans-serif' textLength="33.4" lengthAdjust="spacingAndGlyphs">149.650</text>
<rect x="1628" y="84" width="2" height="1" fill="#000"/>
<text x="1632.6" y="88" font-size="10.4" fill="#000" font-family='"Liberation Sans", Arial, sans-serif' textLength="33.4" lengthAdjust="spacingAndGlyphs">148.570</text>
<rect x="1628" y="116" width="2" height="1" fill="#000"/>
<text x="1632.6" y="120" font-size="10.4" fill="#000" font-family='"Liberation Sans", Arial, sans-serif' textLength="33.4" lengthAdjust="spacingAndGlyphs">147.520</text>
<rect x="1628" y="150" width="2" height="1" fill="#000"/>
<text x="1632.6" y="154" font-size="10.4" fill="#000" font-family='"Liberation Sans", Arial, sans-serif' textLength="33.4" lengthAdjust="spacingAndGlyphs">146.440</text>
<rect x="1628" y="183" width="2" height="1" fill="#000"/>
<text x="1632.6" y="187" font-size="10.4" fill="#000" font-family='"Liberation Sans", Arial, sans-serif' textLength="33.4" lengthAdjust="spacingAndGlyphs">145.360</text>
<rect x="1628" y="215" width="2" height="1" fill="#000"/>
<text x="1632.6" y="219" font-size="10.4" fill="#000" font-family='"Liberation Sans", Arial, sans-serif' textLength="33.4" lengthAdjust="spacingAndGlyphs">144.310</text>
<rect x="1628" y="249" width="2" height="1" fill="#000"/>
<text x="1632.6" y="253" font-size="10.4" fill="#000" font-family='"Liberation Sans", Arial, sans-serif' textLength="33.4" lengthAdjust="spacingAndGlyphs">143.230</text>
<rect x="1628" y="282" width="2" height="1" fill="#000"/>
<rect x="1628" y="315" width="2" height="1" fill="#000"/>
<text x="1632.6" y="319" font-size="10.4" fill="#000" font-family='"Liberation Sans", Arial, sans-serif' textLength="33.4" lengthAdjust="spacingAndGlyphs">141.100</text>
<rect x="1628" y="348" width="2" height="1" fill="#000"/>
<text x="1632.6" y="352" font-size="10.4" fill="#000" font-family='"Liberation Sans", Arial, sans-serif' textLength="33.4" lengthAdjust="spacingAndGlyphs">140.020</text>
<rect x="1628" y="381" width="2" height="1" fill="#000"/>
<text x="1632.6" y="385" font-size="10.4" fill="#000" font-family='"Liberation Sans", Arial, sans-serif' textLength="33.4" lengthAdjust="spacingAndGlyphs">138.940</text>
<rect x="1628" y="414" width="2" height="1" fill="#000"/>
<text x="1632.6" y="418" font-size="10.4" fill="#000" font-family='"Liberation Sans", Arial, sans-serif' textLength="33.4" lengthAdjust="spacingAndGlyphs">137.890</text>
<rect x="1628" y="447" width="2" height="1" fill="#000"/>
<text x="1632.6" y="451" font-size="10.4" fill="#000" font-family='"Liberation Sans", Arial, sans-serif' textLength="33.4" lengthAdjust="spacingAndGlyphs">136.810</text>
<rect x="1628" y="479" width="2" height="1" fill="#000"/>
<text x="1632.6" y="483" font-size="10.4" fill="#000" font-family='"Liberation Sans", Arial, sans-serif' textLength="33.4" lengthAdjust="spacingAndGlyphs">135.760</text>
<rect x="1628" y="513" width="2" height="1" fill="#000"/>
<text x="1632.6" y="517" font-size="10.4" fill="#000" font-family='"Liberation Sans", Arial, sans-serif' textLength="33.4" lengthAdjust="spacingAndGlyphs">134.680</text>
<rect x="1628" y="546" width="2" height="1" fill="#000"/>
<text x="1632.6" y="550" font-size="10.4" fill="#000" font-family='"Liberation Sans", Arial, sans-serif' textLength="33.4" lengthAdjust="spacingAndGlyphs">133.600</text>
<rect x="1628" y="579" width="2" height="1" fill="#000"/>
<text x="1632.6" y="583" font-size="10.4" fill="#000" font-family='"Liberation Sans", Arial, sans-serif' textLength="33.4" lengthAdjust="spacingAndGlyphs">132.550</text>
</g>
<g shape-rendering="crispEdges">
<rect x="1629" y="230" width="41" height="11" fill="#ff4500"/>
<text x="1632.6" y="239" font-size="10.4" fill="#fff" font-family='"Liberation Sans", Arial, sans-serif' textLength="33.4" lengthAdjust="spacingAndGlyphs">143.649</text>
<rect x="1629" y="255" width="41" height="11" fill="#ff0000"/>
<text x="1632.6" y="264" font-size="10.4" fill="#fff" font-family='"Liberation Sans", Arial, sans-serif' textLength="33.4" lengthAdjust="spacingAndGlyphs">142.840</text>
<rect x="1629" y="279" width="41" height="11" fill="#32cd32"/>
<text x="1632.6" y="288" font-size="10.4" fill="#fff" font-family='"Liberation Sans", Arial, sans-serif' textLength="33.4" lengthAdjust="spacingAndGlyphs">142.064</text>
<rect x="1629" y="327" width="41" height="11" fill="#0000ff"/>
<text x="1632.6" y="336" font-size="10.4" fill="#fff" font-family='"Liberation Sans", Arial, sans-serif' textLength="33.4" lengthAdjust="spacingAndGlyphs">140.544</text>
<rect x="1629" y="352" width="41" height="11" fill="#0000ff"/>
<text x="1632.6" y="361" font-size="10.4" fill="#fff" font-family='"Liberation Sans", Arial, sans-serif' textLength="33.4" lengthAdjust="spacingAndGlyphs">139.736</text>
<rect x="1629" y="296" width="41" height="11" fill="#000000"/>
<text x="1632.6" y="305" font-size="10.4" fill="#fff" font-family='"Liberation Sans", Arial, sans-serif' textLength="33.4" lengthAdjust="spacingAndGlyphs">141.536</text>
</g>
<g shape-rendering="crispEdges" fill="#000">
<rect x="-1" y="930" width="1" height="3"/>
<rect x="63" y="930" width="1" height="3"/>
<rect x="127" y="930" width="1" height="3"/>
<rect x="191" y="930" width="1" height="3"/>
<rect x="255" y="930" width="1" height="3"/>
<rect x="319" y="930" width="1" height="3"/>
<rect x="383" y="930" width="1" height="3"/>
<rect x="447" y="930" width="1" height="3"/>
<rect x="511" y="930" width="1" height="3"/>
<rect x="575" y="930" width="1" height="3"/>
<rect x="639" y="930" width="1" height="3"/>
<rect x="703" y="930" width="1" height="3"/>
<rect x="767" y="930" width="1" height="3"/>
<rect x="831" y="930" width="1" height="3"/>
<rect x="895" y="930" width="1" height="3"/>
<rect x="959" y="930" width="1" height="3"/>
<rect x="1023" y="930" width="1" height="3"/>
<rect x="1087" y="930" width="1" height="3"/>
<rect x="1151" y="930" width="1" height="3"/>
<rect x="1215" y="930" width="1" height="3"/>
<rect x="1279" y="930" width="1" height="3"/>
<rect x="1343" y="930" width="1" height="3"/>
<rect x="1407" y="930" width="1" height="3"/>
</g>
<text x="-2.6" y="942" font-size="10.2" fill="#000" font-family='"Liberation Sans", Arial, sans-serif' textLength="53.4" lengthAdjust="spacingAndGlyphs">15 Oct 2018</text>
<text x="61.4" y="942" font-size="10.2" fill="#000" font-family='"Liberation Sans", Arial, sans-serif' textLength="53.4" lengthAdjust="spacingAndGlyphs">24 Oct 2018</text>
<text x="125.4" y="942" font-size="10.2" fill="#000" font-family='"Liberation Sans", Arial, sans-serif' textLength="50.1" lengthAdjust="spacingAndGlyphs">2 Nov 2018</text>
<text x="189.4" y="942" font-size="10.2" fill="#000" font-family='"Liberation Sans", Arial, sans-serif' textLength="55.6" lengthAdjust="spacingAndGlyphs">12 Nov 2018</text>
<text x="253.4" y="942" font-size="10.2" fill="#000" font-family='"Liberation Sans", Arial, sans-serif' textLength="55.6" lengthAdjust="spacingAndGlyphs">21 Nov 2018</text>
<text x="317.4" y="942" font-size="10.2" fill="#000" font-family='"Liberation Sans", Arial, sans-serif' textLength="55.6" lengthAdjust="spacingAndGlyphs">30 Nov 2018</text>
<text x="381.4" y="942" font-size="10.2" fill="#000" font-family='"Liberation Sans", Arial, sans-serif' textLength="55.6" lengthAdjust="spacingAndGlyphs">10 Dec 2018</text>
<text x="445.4" y="942" font-size="10.2" fill="#000" font-family='"Liberation Sans", Arial, sans-serif' textLength="55.6" lengthAdjust="spacingAndGlyphs">19 Dec 2018</text>
<text x="509.4" y="942" font-size="10.2" fill="#000" font-family='"Liberation Sans", Arial, sans-serif' textLength="55.6" lengthAdjust="spacingAndGlyphs">28 Dec 2018</text>
<text x="573.4" y="942" font-size="10.2" fill="#000" font-family='"Liberation Sans", Arial, sans-serif' textLength="48.5" lengthAdjust="spacingAndGlyphs">7 Jan 2019</text>
<text x="637.4" y="942" font-size="10.2" fill="#000" font-family='"Liberation Sans", Arial, sans-serif' textLength="53.9" lengthAdjust="spacingAndGlyphs">16 Jan 2019</text>
<text x="701.4" y="942" font-size="10.2" fill="#000" font-family='"Liberation Sans", Arial, sans-serif' textLength="53.9" lengthAdjust="spacingAndGlyphs">25 Jan 2019</text>
<text x="765.4" y="942" font-size="10.2" fill="#000" font-family='"Liberation Sans", Arial, sans-serif' textLength="49.6" lengthAdjust="spacingAndGlyphs">4 Feb 2019</text>
<text x="829.4" y="942" font-size="10.2" fill="#000" font-family='"Liberation Sans", Arial, sans-serif' textLength="55.0" lengthAdjust="spacingAndGlyphs">13 Feb 2019</text>
<text x="893.4" y="942" font-size="10.2" fill="#000" font-family='"Liberation Sans", Arial, sans-serif' textLength="55.0" lengthAdjust="spacingAndGlyphs">22 Feb 2019</text>
<text x="957.4" y="942" font-size="10.2" fill="#000" font-family='"Liberation Sans", Arial, sans-serif' textLength="49.6" lengthAdjust="spacingAndGlyphs">4 Mar 2019</text>
<text x="1021.4" y="942" font-size="10.2" fill="#000" font-family='"Liberation Sans", Arial, sans-serif' textLength="55.0" lengthAdjust="spacingAndGlyphs">13 Mar 2019</text>
<text x="1085.4" y="942" font-size="10.2" fill="#000" font-family='"Liberation Sans", Arial, sans-serif' textLength="55.0" lengthAdjust="spacingAndGlyphs">22 Mar 2019</text>
<text x="1149.4" y="942" font-size="10.2" fill="#000" font-family='"Liberation Sans", Arial, sans-serif' textLength="47.4" lengthAdjust="spacingAndGlyphs">1 Apr 2019</text>
<text x="1213.4" y="942" font-size="10.2" fill="#000" font-family='"Liberation Sans", Arial, sans-serif' textLength="52.9" lengthAdjust="spacingAndGlyphs">10 Apr 2019</text>
<text x="1277.4" y="942" font-size="10.2" fill="#000" font-family='"Liberation Sans", Arial, sans-serif' textLength="52.9" lengthAdjust="spacingAndGlyphs">21 Apr 2019</text>
<text x="1341.4" y="942" font-size="10.2" fill="#000" font-family='"Liberation Sans", Arial, sans-serif' textLength="52.9" lengthAdjust="spacingAndGlyphs">30 Apr 2019</text>
<text x="1405.4" y="942" font-size="10.2" fill="#000" font-family='"Liberation Sans", Arial, sans-serif' textLength="51.2" lengthAdjust="spacingAndGlyphs">9 May 2019</text>
</svg>
</body></html>
